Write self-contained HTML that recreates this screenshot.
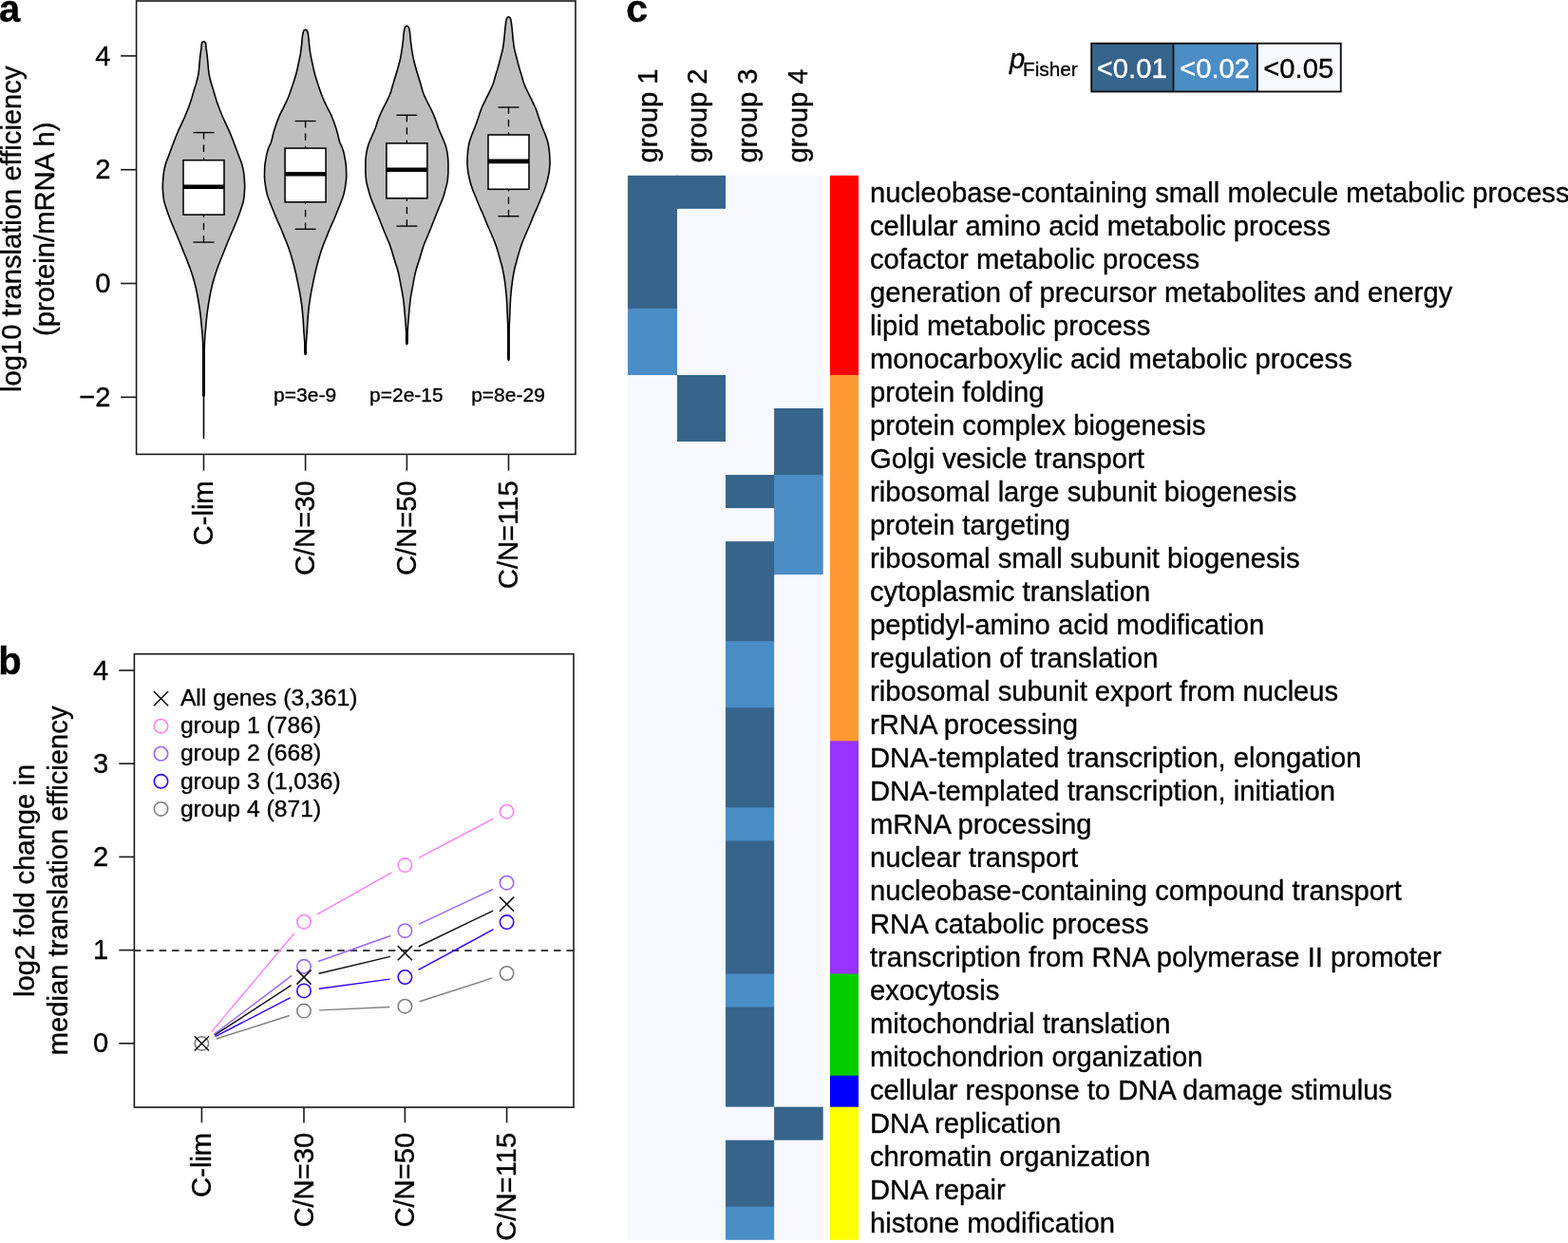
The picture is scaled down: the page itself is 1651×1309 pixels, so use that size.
<!DOCTYPE html>
<html><head><meta charset="utf-8"><title>Figure</title>
<style>
html,body{margin:0;padding:0;background:#fff;}
body{width:1651px;height:1309px;overflow:hidden;}
svg{display:block;}
text{font-family:"Liberation Sans", Arial, Helvetica, sans-serif;fill:#000;stroke:#000;stroke-width:0.35px;}
.t29{font-size:29.2px;}
.t25{font-size:24.7px;}
.t21{font-size:21px;}
.t21f{font-size:20.8px;}
.lbl{font-size:40px;font-weight:bold;}
</style></head><body>
<svg width="1651" height="1309" viewBox="0 0 1651 1309">
<rect width="1651" height="1309" fill="#fff"/>
<text x="-1" y="23.1" class="lbl">a</text>
<text x="-1.7" y="710.2" class="lbl">b</text>
<text x="659.2" y="23.2" class="lbl" style="font-size:41px">c</text>
<g id="pa">
<path d="M214.5,43.7 L215.61,44.2 L216.13,44.7 L216.38,45.2 L216.54,45.7 L216.63,46.2 L216.69,46.7 L216.74,47.2 L216.78,47.7 L216.82,48.2 L216.85,48.7 L216.9,49.2 L216.96,49.7 L217.01,50.2 L217.08,50.7 L217.14,51.2 L217.21,51.7 L217.27,52.2 L217.34,52.7 L217.42,53.2 L217.49,53.7 L217.56,54.2 L217.63,54.7 L217.7,55.2 L217.77,55.7 L217.84,56.2 L217.9,56.7 L217.97,57.2 L218.03,57.7 L218.09,58.2 L218.14,58.7 L218.2,59.2 L218.25,59.7 L218.3,60.2 L218.35,60.7 L218.4,61.2 L218.45,61.7 L218.5,62.2 L218.55,62.7 L218.59,63.2 L218.64,63.7 L218.69,64.2 L218.73,64.7 L218.78,65.2 L218.83,65.7 L218.88,66.2 L218.92,66.7 L218.97,67.2 L219.02,67.7 L219.07,68.2 L219.11,68.7 L219.16,69.2 L219.2,69.7 L219.24,70.2 L219.29,70.7 L219.33,71.2 L219.37,71.7 L219.42,72.2 L219.46,72.7 L219.51,73.2 L219.56,73.7 L219.61,74.2 L219.66,74.7 L219.71,75.2 L219.77,75.7 L219.83,76.2 L219.9,76.7 L219.97,77.2 L220.05,77.7 L220.13,78.2 L220.22,78.7 L220.32,79.2 L220.42,79.7 L220.52,80.2 L220.63,80.7 L220.74,81.2 L220.85,81.7 L220.97,82.2 L221.09,82.7 L221.22,83.2 L221.34,83.7 L221.47,84.2 L221.59,84.7 L221.72,85.2 L221.85,85.7 L221.98,86.2 L222.11,86.7 L222.25,87.2 L222.39,87.7 L222.54,88.2 L222.69,88.7 L222.85,89.2 L223.01,89.7 L223.17,90.2 L223.33,90.7 L223.49,91.2 L223.65,91.7 L223.82,92.2 L223.98,92.7 L224.14,93.2 L224.3,93.7 L224.46,94.2 L224.61,94.7 L224.76,95.2 L224.91,95.7 L225.06,96.2 L225.2,96.7 L225.34,97.2 L225.49,97.7 L225.63,98.2 L225.77,98.7 L225.92,99.2 L226.06,99.7 L226.2,100.2 L226.35,100.7 L226.49,101.2 L226.64,101.7 L226.78,102.2 L226.94,102.7 L227.09,103.2 L227.24,103.7 L227.4,104.2 L227.56,104.7 L227.72,105.2 L227.89,105.7 L228.05,106.2 L228.22,106.7 L228.39,107.2 L228.56,107.7 L228.73,108.2 L228.9,108.7 L229.08,109.2 L229.25,109.7 L229.43,110.2 L229.61,110.7 L229.79,111.2 L229.97,111.7 L230.16,112.2 L230.34,112.7 L230.53,113.2 L230.71,113.7 L230.9,114.2 L231.09,114.7 L231.28,115.2 L231.48,115.7 L231.67,116.2 L231.87,116.7 L232.07,117.2 L232.27,117.7 L232.47,118.2 L232.67,118.7 L232.88,119.2 L233.08,119.7 L233.29,120.2 L233.5,120.7 L233.71,121.2 L233.92,121.7 L234.13,122.2 L234.34,122.7 L234.56,123.2 L234.77,123.7 L234.99,124.2 L235.21,124.7 L235.44,125.2 L235.66,125.7 L235.89,126.2 L236.11,126.7 L236.34,127.2 L236.57,127.7 L236.8,128.2 L237.03,128.7 L237.26,129.2 L237.49,129.7 L237.72,130.2 L237.94,130.7 L238.17,131.2 L238.4,131.7 L238.63,132.2 L238.86,132.7 L239.09,133.2 L239.32,133.7 L239.55,134.2 L239.79,134.7 L240.02,135.2 L240.26,135.7 L240.49,136.2 L240.72,136.7 L240.95,137.2 L241.18,137.7 L241.41,138.2 L241.64,138.7 L241.86,139.2 L242.08,139.7 L242.3,140.2 L242.52,140.7 L242.73,141.2 L242.93,141.7 L243.14,142.2 L243.34,142.7 L243.54,143.2 L243.74,143.7 L243.94,144.2 L244.13,144.7 L244.33,145.2 L244.52,145.7 L244.71,146.2 L244.9,146.7 L245.09,147.2 L245.28,147.7 L245.48,148.2 L245.67,148.7 L245.86,149.2 L246.05,149.7 L246.24,150.2 L246.43,150.7 L246.62,151.2 L246.81,151.7 L247,152.2 L247.19,152.7 L247.38,153.2 L247.56,153.7 L247.75,154.2 L247.94,154.7 L248.12,155.2 L248.31,155.7 L248.5,156.2 L248.69,156.7 L248.88,157.2 L249.06,157.7 L249.25,158.2 L249.44,158.7 L249.63,159.2 L249.82,159.7 L250.01,160.2 L250.19,160.7 L250.38,161.2 L250.57,161.7 L250.76,162.2 L250.94,162.7 L251.13,163.2 L251.32,163.7 L251.5,164.2 L251.69,164.7 L251.88,165.2 L252.07,165.7 L252.27,166.2 L252.46,166.7 L252.66,167.2 L252.86,167.7 L253.06,168.2 L253.25,168.7 L253.44,169.2 L253.63,169.7 L253.81,170.2 L253.99,170.7 L254.16,171.2 L254.33,171.7 L254.49,172.2 L254.63,172.7 L254.77,173.2 L254.9,173.7 L255.03,174.2 L255.16,174.7 L255.29,175.2 L255.41,175.7 L255.53,176.2 L255.65,176.7 L255.76,177.2 L255.87,177.7 L255.98,178.2 L256.08,178.7 L256.18,179.2 L256.27,179.7 L256.36,180.2 L256.44,180.7 L256.52,181.2 L256.59,181.7 L256.66,182.2 L256.72,182.7 L256.78,183.2 L256.84,183.7 L256.9,184.2 L256.95,184.7 L257,185.2 L257.05,185.7 L257.1,186.2 L257.14,186.7 L257.19,187.2 L257.23,187.7 L257.27,188.2 L257.3,188.7 L257.34,189.2 L257.38,189.7 L257.41,190.2 L257.44,190.7 L257.47,191.2 L257.5,191.7 L257.53,192.2 L257.56,192.7 L257.59,193.2 L257.62,193.7 L257.64,194.2 L257.66,194.7 L257.68,195.2 L257.69,195.7 L257.7,196.2 L257.7,196.7 L257.69,197.2 L257.67,197.7 L257.65,198.2 L257.63,198.7 L257.6,199.2 L257.57,199.7 L257.54,200.2 L257.51,200.7 L257.48,201.2 L257.45,201.7 L257.42,202.2 L257.38,202.7 L257.35,203.2 L257.31,203.7 L257.26,204.2 L257.22,204.7 L257.17,205.2 L257.13,205.7 L257.07,206.2 L257.02,206.7 L256.97,207.2 L256.91,207.7 L256.84,208.2 L256.78,208.7 L256.71,209.2 L256.64,209.7 L256.57,210.2 L256.49,210.7 L256.39,211.2 L256.28,211.7 L256.16,212.2 L256.04,212.7 L255.9,213.2 L255.76,213.7 L255.61,214.2 L255.46,214.7 L255.3,215.2 L255.14,215.7 L254.98,216.2 L254.81,216.7 L254.65,217.2 L254.48,217.7 L254.32,218.2 L254.16,218.7 L254,219.2 L253.84,219.7 L253.68,220.2 L253.52,220.7 L253.36,221.2 L253.19,221.7 L253.02,222.2 L252.85,222.7 L252.68,223.2 L252.51,223.7 L252.33,224.2 L252.15,224.7 L251.97,225.2 L251.79,225.7 L251.61,226.2 L251.43,226.7 L251.25,227.2 L251.06,227.7 L250.87,228.2 L250.69,228.7 L250.5,229.2 L250.31,229.7 L250.11,230.2 L249.92,230.7 L249.72,231.2 L249.52,231.7 L249.32,232.2 L249.12,232.7 L248.92,233.2 L248.71,233.7 L248.51,234.2 L248.3,234.7 L248.1,235.2 L247.89,235.7 L247.68,236.2 L247.47,236.7 L247.27,237.2 L247.06,237.7 L246.85,238.2 L246.64,238.7 L246.43,239.2 L246.21,239.7 L246,240.2 L245.78,240.7 L245.57,241.2 L245.35,241.7 L245.13,242.2 L244.92,242.7 L244.7,243.2 L244.48,243.7 L244.27,244.2 L244.05,244.7 L243.84,245.2 L243.62,245.7 L243.41,246.2 L243.2,246.7 L242.99,247.2 L242.78,247.7 L242.57,248.2 L242.36,248.7 L242.15,249.2 L241.95,249.7 L241.74,250.2 L241.53,250.7 L241.33,251.2 L241.12,251.7 L240.91,252.2 L240.71,252.7 L240.5,253.2 L240.3,253.7 L240.09,254.2 L239.89,254.7 L239.69,255.2 L239.48,255.7 L239.28,256.2 L239.07,256.7 L238.87,257.2 L238.67,257.7 L238.47,258.2 L238.27,258.7 L238.07,259.2 L237.86,259.7 L237.66,260.2 L237.46,260.7 L237.26,261.2 L237.06,261.7 L236.86,262.2 L236.66,262.7 L236.46,263.2 L236.26,263.7 L236.06,264.2 L235.86,264.7 L235.66,265.2 L235.46,265.7 L235.26,266.2 L235.05,266.7 L234.85,267.2 L234.65,267.7 L234.44,268.2 L234.24,268.7 L234.04,269.2 L233.83,269.7 L233.63,270.2 L233.43,270.7 L233.23,271.2 L233.03,271.7 L232.83,272.2 L232.63,272.7 L232.43,273.2 L232.23,273.7 L232.04,274.2 L231.84,274.7 L231.65,275.2 L231.46,275.7 L231.26,276.2 L231.07,276.7 L230.87,277.2 L230.68,277.7 L230.49,278.2 L230.29,278.7 L230.1,279.2 L229.91,279.7 L229.72,280.2 L229.53,280.7 L229.35,281.2 L229.16,281.7 L228.98,282.2 L228.8,282.7 L228.62,283.2 L228.45,283.7 L228.27,284.2 L228.1,284.7 L227.93,285.2 L227.77,285.7 L227.6,286.2 L227.44,286.7 L227.27,287.2 L227.11,287.7 L226.95,288.2 L226.79,288.7 L226.63,289.2 L226.47,289.7 L226.31,290.2 L226.15,290.7 L226,291.2 L225.84,291.7 L225.69,292.2 L225.54,292.7 L225.39,293.2 L225.24,293.7 L225.09,294.2 L224.94,294.7 L224.8,295.2 L224.66,295.7 L224.52,296.2 L224.38,296.7 L224.24,297.2 L224.11,297.7 L223.98,298.2 L223.85,298.7 L223.72,299.2 L223.6,299.7 L223.47,300.2 L223.35,300.7 L223.23,301.2 L223.12,301.7 L223,302.2 L222.88,302.7 L222.77,303.2 L222.66,303.7 L222.55,304.2 L222.44,304.7 L222.33,305.2 L222.23,305.7 L222.12,306.2 L222.02,306.7 L221.91,307.2 L221.81,307.7 L221.71,308.2 L221.61,308.7 L221.51,309.2 L221.41,309.7 L221.32,310.2 L221.22,310.7 L221.13,311.2 L221.03,311.7 L220.94,312.2 L220.85,312.7 L220.76,313.2 L220.67,313.7 L220.58,314.2 L220.49,314.7 L220.4,315.2 L220.32,315.7 L220.23,316.2 L220.15,316.7 L220.06,317.2 L219.98,317.7 L219.89,318.2 L219.81,318.7 L219.72,319.2 L219.64,319.7 L219.56,320.2 L219.48,320.7 L219.4,321.2 L219.32,321.7 L219.24,322.2 L219.16,322.7 L219.09,323.2 L219.01,323.7 L218.93,324.2 L218.86,324.7 L218.79,325.2 L218.71,325.7 L218.64,326.2 L218.57,326.7 L218.5,327.2 L218.43,327.7 L218.37,328.2 L218.3,328.7 L218.24,329.2 L218.17,329.7 L218.11,330.2 L218.05,330.7 L217.99,331.2 L217.93,331.7 L217.87,332.2 L217.81,332.7 L217.76,333.2 L217.7,333.7 L217.65,334.2 L217.6,334.7 L217.55,335.2 L217.49,335.7 L217.44,336.2 L217.39,336.7 L217.34,337.2 L217.29,337.7 L217.25,338.2 L217.2,338.7 L217.15,339.2 L217.1,339.7 L217.06,340.2 L217.01,340.7 L216.96,341.2 L216.92,341.7 L216.87,342.2 L216.83,342.7 L216.78,343.2 L216.74,343.7 L216.69,344.2 L216.65,344.7 L216.6,345.2 L216.56,345.7 L216.51,346.2 L216.46,346.7 L216.42,347.2 L216.37,347.7 L216.32,348.2 L216.27,348.7 L216.22,349.2 L216.17,349.7 L216.13,350.2 L216.08,350.7 L216.03,351.2 L215.99,351.7 L215.94,352.2 L215.9,352.7 L215.86,353.2 L215.82,353.7 L215.78,354.2 L215.75,354.7 L215.72,355.2 L215.69,355.7 L215.66,356.2 L215.63,356.7 L215.6,357.2 L215.57,357.7 L215.54,358.2 L215.52,358.7 L215.49,359.2 L215.46,359.7 L215.44,360.2 L215.41,360.7 L215.39,361.2 L215.37,361.7 L215.35,362.2 L215.33,362.7 L215.31,363.2 L215.29,363.7 L215.28,364.2 L215.27,364.7 L215.26,365.2 L215.25,365.7 L215.25,366.2 L215.24,366.7 L215.24,367.2 L215.24,367.7 L215.23,368.2 L215.23,368.7 L215.23,369.2 L215.22,369.7 L215.22,370.2 L215.22,370.7 L215.22,371.2 L215.21,371.7 L215.21,372.2 L215.21,372.7 L215.21,373.2 L215.21,373.7 L215.21,374.2 L215.2,374.7 L215.2,375.2 L215.2,375.7 L215.2,376.2 L215.2,376.7 L215.2,377.2 L215.2,377.7 L215.2,378.2 L215.2,378.7 L215.2,379.2 L215.2,379.7 L215.2,380.2 L215.2,380.7 L215.2,381.2 L215.2,381.7 L215.2,382.2 L215.2,382.7 L215.2,383.2 L215.2,383.7 L215.2,384.2 L215.2,384.7 L215.2,385.2 L215.2,385.7 L215.2,386.2 L215.2,386.7 L215.2,387.2 L215.2,387.7 L215.2,388.2 L215.2,388.7 L215.2,389.2 L215.2,389.7 L215.2,390.2 L215.2,390.7 L215.2,391.2 L215.2,391.7 L215.2,392.2 L215.2,392.7 L215.2,393.2 L215.2,393.7 L215.2,394.2 L215.2,394.7 L215.2,395.2 L215.2,395.7 L215.2,396.2 L215.2,396.7 L215.2,397.2 L215.2,397.7 L215.2,398.2 L215.2,398.7 L215.2,399.2 L215.2,399.7 L215.2,400.2 L215.2,400.7 L215.2,401.2 L215.2,401.7 L215.2,402.2 L215.2,402.7 L215.2,403.2 L215.2,403.7 L215.2,404.2 L215.2,404.7 L215.2,405.2 L215.2,405.7 L215.2,406.2 L215.2,406.7 L215.2,407.2 L215.2,407.7 L215.2,408.2 L215.2,408.7 L215.2,409.2 L215.2,409.7 L215.2,410.2 L215.2,410.7 L215.2,411.2 L215.2,411.7 L215.2,412.2 L215.2,412.7 L215.2,413.2 L215.2,413.7 L215.2,414.2 L215.2,414.7 L215.2,415.2 L215.2,415.7 L215.2,416.2 L215.17,416.7 L214.88,417.2 L214.57,417.7 L214.5,418.2 L214.5,418.7 L214.5,419.2 L214.5,419.7 L214.5,420.2 L214.5,420.7 L214.5,421.2 L214.5,421.7 L214.5,422.2 L214.5,422.7 L214.5,423.2 L214.5,423.7 L214.5,424.2 L214.5,424.7 L214.5,425.2 L214.5,425.7 L214.5,426.2 L214.5,426.7 L214.5,427.2 L214.5,427.7 L214.5,428.2 L214.5,428.7 L214.5,429.2 L214.5,429.7 L214.5,430.2 L214.5,430.7 L214.5,431.2 L214.5,431.7 L214.5,432.2 L214.5,432.7 L214.5,433.2 L214.5,433.7 L214.5,434.2 L214.5,434.7 L214.5,435.2 L214.5,435.7 L214.5,436.2 L214.5,436.7 L214.5,437.2 L214.5,437.7 L214.5,438.2 L214.5,438.7 L214.5,439.2 L214.5,439.7 L214.5,440.2 L214.5,440.7 L214.5,441.2 L214.5,441.7 L214.5,442.2 L214.5,442.7 L214.5,443.2 L214.5,443.7 L214.5,444.2 L214.5,444.7 L214.5,445.2 L214.5,445.7 L214.5,446.2 L214.5,446.7 L214.5,447.2 L214.5,447.7 L214.5,448.2 L214.5,448.7 L214.5,449.2 L214.5,449.7 L214.5,450.2 L214.5,450.7 L214.5,451.2 L214.5,451.7 L214.5,452.2 L214.5,452.7 L214.5,453.2 L214.5,453.7 L214.5,454.2 L214.5,454.7 L214.5,455.2 L214.5,455.7 L214.5,456.2 L214.5,456.7 L214.5,457.2 L214.5,457.7 L214.5,458.2 L214.5,458.7 L214.5,459.2 L214.5,459.7 L214.5,460.2 L214.5,460.7 L214.5,461.2 L214.5,461.6 L214.5,461.6 L214.5,461.2 L214.5,460.7 L214.5,460.2 L214.5,459.7 L214.5,459.2 L214.5,458.7 L214.5,458.2 L214.5,457.7 L214.5,457.2 L214.5,456.7 L214.5,456.2 L214.5,455.7 L214.5,455.2 L214.5,454.7 L214.5,454.2 L214.5,453.7 L214.5,453.2 L214.5,452.7 L214.5,452.2 L214.5,451.7 L214.5,451.2 L214.5,450.7 L214.5,450.2 L214.5,449.7 L214.5,449.2 L214.5,448.7 L214.5,448.2 L214.5,447.7 L214.5,447.2 L214.5,446.7 L214.5,446.2 L214.5,445.7 L214.5,445.2 L214.5,444.7 L214.5,444.2 L214.5,443.7 L214.5,443.2 L214.5,442.7 L214.5,442.2 L214.5,441.7 L214.5,441.2 L214.5,440.7 L214.5,440.2 L214.5,439.7 L214.5,439.2 L214.5,438.7 L214.5,438.2 L214.5,437.7 L214.5,437.2 L214.5,436.7 L214.5,436.2 L214.5,435.7 L214.5,435.2 L214.5,434.7 L214.5,434.2 L214.5,433.7 L214.5,433.2 L214.5,432.7 L214.5,432.2 L214.5,431.7 L214.5,431.2 L214.5,430.7 L214.5,430.2 L214.5,429.7 L214.5,429.2 L214.5,428.7 L214.5,428.2 L214.5,427.7 L214.5,427.2 L214.5,426.7 L214.5,426.2 L214.5,425.7 L214.5,425.2 L214.5,424.7 L214.5,424.2 L214.5,423.7 L214.5,423.2 L214.5,422.7 L214.5,422.2 L214.5,421.7 L214.5,421.2 L214.5,420.7 L214.5,420.2 L214.5,419.7 L214.5,419.2 L214.5,418.7 L214.5,418.2 L214.43,417.7 L214.12,417.2 L213.83,416.7 L213.8,416.2 L213.8,415.7 L213.8,415.2 L213.8,414.7 L213.8,414.2 L213.8,413.7 L213.8,413.2 L213.8,412.7 L213.8,412.2 L213.8,411.7 L213.8,411.2 L213.8,410.7 L213.8,410.2 L213.8,409.7 L213.8,409.2 L213.8,408.7 L213.8,408.2 L213.8,407.7 L213.8,407.2 L213.8,406.7 L213.8,406.2 L213.8,405.7 L213.8,405.2 L213.8,404.7 L213.8,404.2 L213.8,403.7 L213.8,403.2 L213.8,402.7 L213.8,402.2 L213.8,401.7 L213.8,401.2 L213.8,400.7 L213.8,400.2 L213.8,399.7 L213.8,399.2 L213.8,398.7 L213.8,398.2 L213.8,397.7 L213.8,397.2 L213.8,396.7 L213.8,396.2 L213.8,395.7 L213.8,395.2 L213.8,394.7 L213.8,394.2 L213.8,393.7 L213.8,393.2 L213.8,392.7 L213.8,392.2 L213.8,391.7 L213.8,391.2 L213.8,390.7 L213.8,390.2 L213.8,389.7 L213.8,389.2 L213.8,388.7 L213.8,388.2 L213.8,387.7 L213.8,387.2 L213.8,386.7 L213.8,386.2 L213.8,385.7 L213.8,385.2 L213.8,384.7 L213.8,384.2 L213.8,383.7 L213.8,383.2 L213.8,382.7 L213.8,382.2 L213.8,381.7 L213.8,381.2 L213.8,380.7 L213.8,380.2 L213.8,379.7 L213.8,379.2 L213.8,378.7 L213.8,378.2 L213.8,377.7 L213.8,377.2 L213.8,376.7 L213.8,376.2 L213.8,375.7 L213.8,375.2 L213.8,374.7 L213.79,374.2 L213.79,373.7 L213.79,373.2 L213.79,372.7 L213.79,372.2 L213.79,371.7 L213.78,371.2 L213.78,370.7 L213.78,370.2 L213.78,369.7 L213.77,369.2 L213.77,368.7 L213.77,368.2 L213.76,367.7 L213.76,367.2 L213.76,366.7 L213.75,366.2 L213.75,365.7 L213.74,365.2 L213.73,364.7 L213.72,364.2 L213.71,363.7 L213.69,363.2 L213.67,362.7 L213.65,362.2 L213.63,361.7 L213.61,361.2 L213.59,360.7 L213.56,360.2 L213.54,359.7 L213.51,359.2 L213.48,358.7 L213.46,358.2 L213.43,357.7 L213.4,357.2 L213.37,356.7 L213.34,356.2 L213.31,355.7 L213.28,355.2 L213.25,354.7 L213.22,354.2 L213.18,353.7 L213.14,353.2 L213.1,352.7 L213.06,352.2 L213.01,351.7 L212.97,351.2 L212.92,350.7 L212.87,350.2 L212.83,349.7 L212.78,349.2 L212.73,348.7 L212.68,348.2 L212.63,347.7 L212.58,347.2 L212.54,346.7 L212.49,346.2 L212.44,345.7 L212.4,345.2 L212.35,344.7 L212.31,344.2 L212.26,343.7 L212.22,343.2 L212.17,342.7 L212.13,342.2 L212.08,341.7 L212.04,341.2 L211.99,340.7 L211.94,340.2 L211.9,339.7 L211.85,339.2 L211.8,338.7 L211.75,338.2 L211.71,337.7 L211.66,337.2 L211.61,336.7 L211.56,336.2 L211.51,335.7 L211.45,335.2 L211.4,334.7 L211.35,334.2 L211.3,333.7 L211.24,333.2 L211.19,332.7 L211.13,332.2 L211.07,331.7 L211.01,331.2 L210.95,330.7 L210.89,330.2 L210.83,329.7 L210.76,329.2 L210.7,328.7 L210.63,328.2 L210.57,327.7 L210.5,327.2 L210.43,326.7 L210.36,326.2 L210.29,325.7 L210.21,325.2 L210.14,324.7 L210.07,324.2 L209.99,323.7 L209.91,323.2 L209.84,322.7 L209.76,322.2 L209.68,321.7 L209.6,321.2 L209.52,320.7 L209.44,320.2 L209.36,319.7 L209.28,319.2 L209.19,318.7 L209.11,318.2 L209.02,317.7 L208.94,317.2 L208.85,316.7 L208.77,316.2 L208.68,315.7 L208.6,315.2 L208.51,314.7 L208.42,314.2 L208.33,313.7 L208.24,313.2 L208.15,312.7 L208.06,312.2 L207.97,311.7 L207.87,311.2 L207.78,310.7 L207.68,310.2 L207.59,309.7 L207.49,309.2 L207.39,308.7 L207.29,308.2 L207.19,307.7 L207.09,307.2 L206.98,306.7 L206.88,306.2 L206.77,305.7 L206.67,305.2 L206.56,304.7 L206.45,304.2 L206.34,303.7 L206.23,303.2 L206.12,302.7 L206,302.2 L205.88,301.7 L205.77,301.2 L205.65,300.7 L205.53,300.2 L205.4,299.7 L205.28,299.2 L205.15,298.7 L205.02,298.2 L204.89,297.7 L204.76,297.2 L204.62,296.7 L204.48,296.2 L204.34,295.7 L204.2,295.2 L204.06,294.7 L203.91,294.2 L203.76,293.7 L203.61,293.2 L203.46,292.7 L203.31,292.2 L203.16,291.7 L203,291.2 L202.85,290.7 L202.69,290.2 L202.53,289.7 L202.37,289.2 L202.21,288.7 L202.05,288.2 L201.89,287.7 L201.73,287.2 L201.56,286.7 L201.4,286.2 L201.23,285.7 L201.07,285.2 L200.9,284.7 L200.73,284.2 L200.55,283.7 L200.38,283.2 L200.2,282.7 L200.02,282.2 L199.84,281.7 L199.65,281.2 L199.47,280.7 L199.28,280.2 L199.09,279.7 L198.9,279.2 L198.71,278.7 L198.51,278.2 L198.32,277.7 L198.13,277.2 L197.93,276.7 L197.74,276.2 L197.54,275.7 L197.35,275.2 L197.16,274.7 L196.96,274.2 L196.77,273.7 L196.57,273.2 L196.37,272.7 L196.17,272.2 L195.97,271.7 L195.77,271.2 L195.57,270.7 L195.37,270.2 L195.17,269.7 L194.96,269.2 L194.76,268.7 L194.56,268.2 L194.35,267.7 L194.15,267.2 L193.95,266.7 L193.74,266.2 L193.54,265.7 L193.34,265.2 L193.14,264.7 L192.94,264.2 L192.74,263.7 L192.54,263.2 L192.34,262.7 L192.14,262.2 L191.94,261.7 L191.74,261.2 L191.54,260.7 L191.34,260.2 L191.14,259.7 L190.93,259.2 L190.73,258.7 L190.53,258.2 L190.33,257.7 L190.13,257.2 L189.93,256.7 L189.72,256.2 L189.52,255.7 L189.31,255.2 L189.11,254.7 L188.91,254.2 L188.7,253.7 L188.5,253.2 L188.29,252.7 L188.09,252.2 L187.88,251.7 L187.67,251.2 L187.47,250.7 L187.26,250.2 L187.05,249.7 L186.85,249.2 L186.64,248.7 L186.43,248.2 L186.22,247.7 L186.01,247.2 L185.8,246.7 L185.59,246.2 L185.38,245.7 L185.16,245.2 L184.95,244.7 L184.73,244.2 L184.52,243.7 L184.3,243.2 L184.08,242.7 L183.87,242.2 L183.65,241.7 L183.43,241.2 L183.22,240.7 L183,240.2 L182.79,239.7 L182.57,239.2 L182.36,238.7 L182.15,238.2 L181.94,237.7 L181.73,237.2 L181.53,236.7 L181.32,236.2 L181.11,235.7 L180.9,235.2 L180.7,234.7 L180.49,234.2 L180.29,233.7 L180.08,233.2 L179.88,232.7 L179.68,232.2 L179.48,231.7 L179.28,231.2 L179.08,230.7 L178.89,230.2 L178.69,229.7 L178.5,229.2 L178.31,228.7 L178.13,228.2 L177.94,227.7 L177.75,227.2 L177.57,226.7 L177.39,226.2 L177.21,225.7 L177.03,225.2 L176.85,224.7 L176.67,224.2 L176.49,223.7 L176.32,223.2 L176.15,222.7 L175.98,222.2 L175.81,221.7 L175.64,221.2 L175.48,220.7 L175.32,220.2 L175.16,219.7 L175,219.2 L174.84,218.7 L174.68,218.2 L174.52,217.7 L174.35,217.2 L174.19,216.7 L174.02,216.2 L173.86,215.7 L173.7,215.2 L173.54,214.7 L173.39,214.2 L173.24,213.7 L173.1,213.2 L172.96,212.7 L172.84,212.2 L172.72,211.7 L172.61,211.2 L172.51,210.7 L172.43,210.2 L172.36,209.7 L172.29,209.2 L172.22,208.7 L172.16,208.2 L172.09,207.7 L172.03,207.2 L171.98,206.7 L171.93,206.2 L171.87,205.7 L171.83,205.2 L171.78,204.7 L171.74,204.2 L171.69,203.7 L171.65,203.2 L171.62,202.7 L171.58,202.2 L171.55,201.7 L171.52,201.2 L171.49,200.7 L171.46,200.2 L171.43,199.7 L171.4,199.2 L171.37,198.7 L171.35,198.2 L171.33,197.7 L171.31,197.2 L171.3,196.7 L171.3,196.2 L171.31,195.7 L171.32,195.2 L171.34,194.7 L171.36,194.2 L171.38,193.7 L171.41,193.2 L171.44,192.7 L171.47,192.2 L171.5,191.7 L171.53,191.2 L171.56,190.7 L171.59,190.2 L171.62,189.7 L171.66,189.2 L171.7,188.7 L171.73,188.2 L171.77,187.7 L171.81,187.2 L171.86,186.7 L171.9,186.2 L171.95,185.7 L172,185.2 L172.05,184.7 L172.1,184.2 L172.16,183.7 L172.22,183.2 L172.28,182.7 L172.34,182.2 L172.41,181.7 L172.48,181.2 L172.56,180.7 L172.64,180.2 L172.73,179.7 L172.82,179.2 L172.92,178.7 L173.02,178.2 L173.13,177.7 L173.24,177.2 L173.35,176.7 L173.47,176.2 L173.59,175.7 L173.71,175.2 L173.84,174.7 L173.97,174.2 L174.1,173.7 L174.23,173.2 L174.37,172.7 L174.51,172.2 L174.67,171.7 L174.84,171.2 L175.01,170.7 L175.19,170.2 L175.37,169.7 L175.56,169.2 L175.75,168.7 L175.94,168.2 L176.14,167.7 L176.34,167.2 L176.54,166.7 L176.73,166.2 L176.93,165.7 L177.12,165.2 L177.31,164.7 L177.5,164.2 L177.68,163.7 L177.87,163.2 L178.06,162.7 L178.24,162.2 L178.43,161.7 L178.62,161.2 L178.81,160.7 L178.99,160.2 L179.18,159.7 L179.37,159.2 L179.56,158.7 L179.75,158.2 L179.94,157.7 L180.12,157.2 L180.31,156.7 L180.5,156.2 L180.69,155.7 L180.88,155.2 L181.06,154.7 L181.25,154.2 L181.44,153.7 L181.62,153.2 L181.81,152.7 L182,152.2 L182.19,151.7 L182.38,151.2 L182.57,150.7 L182.76,150.2 L182.95,149.7 L183.14,149.2 L183.33,148.7 L183.52,148.2 L183.72,147.7 L183.91,147.2 L184.1,146.7 L184.29,146.2 L184.48,145.7 L184.67,145.2 L184.87,144.7 L185.06,144.2 L185.26,143.7 L185.46,143.2 L185.66,142.7 L185.86,142.2 L186.07,141.7 L186.27,141.2 L186.48,140.7 L186.7,140.2 L186.92,139.7 L187.14,139.2 L187.36,138.7 L187.59,138.2 L187.82,137.7 L188.05,137.2 L188.28,136.7 L188.51,136.2 L188.74,135.7 L188.98,135.2 L189.21,134.7 L189.45,134.2 L189.68,133.7 L189.91,133.2 L190.14,132.7 L190.37,132.2 L190.6,131.7 L190.83,131.2 L191.06,130.7 L191.28,130.2 L191.51,129.7 L191.74,129.2 L191.97,128.7 L192.2,128.2 L192.43,127.7 L192.66,127.2 L192.89,126.7 L193.11,126.2 L193.34,125.7 L193.56,125.2 L193.79,124.7 L194.01,124.2 L194.23,123.7 L194.44,123.2 L194.66,122.7 L194.87,122.2 L195.08,121.7 L195.29,121.2 L195.5,120.7 L195.71,120.2 L195.92,119.7 L196.12,119.2 L196.33,118.7 L196.53,118.2 L196.73,117.7 L196.93,117.2 L197.13,116.7 L197.33,116.2 L197.52,115.7 L197.72,115.2 L197.91,114.7 L198.1,114.2 L198.29,113.7 L198.47,113.2 L198.66,112.7 L198.84,112.2 L199.03,111.7 L199.21,111.2 L199.39,110.7 L199.57,110.2 L199.75,109.7 L199.92,109.2 L200.1,108.7 L200.27,108.2 L200.44,107.7 L200.61,107.2 L200.78,106.7 L200.95,106.2 L201.11,105.7 L201.28,105.2 L201.44,104.7 L201.6,104.2 L201.76,103.7 L201.91,103.2 L202.06,102.7 L202.22,102.2 L202.36,101.7 L202.51,101.2 L202.65,100.7 L202.8,100.2 L202.94,99.7 L203.08,99.2 L203.23,98.7 L203.37,98.2 L203.51,97.7 L203.66,97.2 L203.8,96.7 L203.94,96.2 L204.09,95.7 L204.24,95.2 L204.39,94.7 L204.54,94.2 L204.7,93.7 L204.86,93.2 L205.02,92.7 L205.18,92.2 L205.35,91.7 L205.51,91.2 L205.67,90.7 L205.83,90.2 L205.99,89.7 L206.15,89.2 L206.31,88.7 L206.46,88.2 L206.61,87.7 L206.75,87.2 L206.89,86.7 L207.02,86.2 L207.15,85.7 L207.28,85.2 L207.41,84.7 L207.53,84.2 L207.66,83.7 L207.78,83.2 L207.91,82.7 L208.03,82.2 L208.15,81.7 L208.26,81.2 L208.37,80.7 L208.48,80.2 L208.58,79.7 L208.68,79.2 L208.78,78.7 L208.87,78.2 L208.95,77.7 L209.03,77.2 L209.1,76.7 L209.17,76.2 L209.23,75.7 L209.29,75.2 L209.34,74.7 L209.39,74.2 L209.44,73.7 L209.49,73.2 L209.54,72.7 L209.58,72.2 L209.63,71.7 L209.67,71.2 L209.71,70.7 L209.76,70.2 L209.8,69.7 L209.84,69.2 L209.89,68.7 L209.93,68.2 L209.98,67.7 L210.03,67.2 L210.08,66.7 L210.12,66.2 L210.17,65.7 L210.22,65.2 L210.27,64.7 L210.31,64.2 L210.36,63.7 L210.41,63.2 L210.45,62.7 L210.5,62.2 L210.55,61.7 L210.6,61.2 L210.65,60.7 L210.7,60.2 L210.75,59.7 L210.8,59.2 L210.86,58.7 L210.91,58.2 L210.97,57.7 L211.03,57.2 L211.1,56.7 L211.16,56.2 L211.23,55.7 L211.3,55.2 L211.37,54.7 L211.44,54.2 L211.51,53.7 L211.58,53.2 L211.66,52.7 L211.73,52.2 L211.79,51.7 L211.86,51.2 L211.92,50.7 L211.99,50.2 L212.04,49.7 L212.1,49.2 L212.15,48.7 L212.18,48.2 L212.22,47.7 L212.26,47.2 L212.31,46.7 L212.37,46.2 L212.46,45.7 L212.62,45.2 L212.87,44.7 L213.39,44.2 L214.5,43.7Z" fill="#bebebe" stroke="#000" stroke-width="1.6" stroke-linejoin="round"/>
<path d="M321.6,31.2 L322.7,31.7 L323.25,32.2 L323.52,32.7 L323.71,33.2 L323.86,33.7 L323.99,34.2 L324.11,34.7 L324.22,35.2 L324.32,35.7 L324.41,36.2 L324.5,36.7 L324.58,37.2 L324.65,37.7 L324.72,38.2 L324.79,38.7 L324.85,39.2 L324.91,39.7 L324.97,40.2 L325.02,40.7 L325.08,41.2 L325.12,41.7 L325.17,42.2 L325.22,42.7 L325.26,43.2 L325.3,43.7 L325.35,44.2 L325.39,44.7 L325.43,45.2 L325.48,45.7 L325.53,46.2 L325.57,46.7 L325.62,47.2 L325.68,47.7 L325.73,48.2 L325.79,48.7 L325.85,49.2 L325.91,49.7 L325.96,50.2 L326.02,50.7 L326.08,51.2 L326.15,51.7 L326.21,52.2 L326.27,52.7 L326.34,53.2 L326.4,53.7 L326.47,54.2 L326.54,54.7 L326.61,55.2 L326.68,55.7 L326.76,56.2 L326.84,56.7 L326.92,57.2 L327,57.7 L327.09,58.2 L327.18,58.7 L327.27,59.2 L327.37,59.7 L327.47,60.2 L327.58,60.7 L327.68,61.2 L327.79,61.7 L327.9,62.2 L328.01,62.7 L328.12,63.2 L328.23,63.7 L328.34,64.2 L328.45,64.7 L328.56,65.2 L328.67,65.7 L328.78,66.2 L328.88,66.7 L328.99,67.2 L329.09,67.7 L329.2,68.2 L329.3,68.7 L329.4,69.2 L329.5,69.7 L329.61,70.2 L329.71,70.7 L329.82,71.2 L329.92,71.7 L330.03,72.2 L330.14,72.7 L330.25,73.2 L330.37,73.7 L330.48,74.2 L330.6,74.7 L330.73,75.2 L330.85,75.7 L330.98,76.2 L331.11,76.7 L331.25,77.2 L331.39,77.7 L331.53,78.2 L331.68,78.7 L331.83,79.2 L331.98,79.7 L332.13,80.2 L332.28,80.7 L332.44,81.2 L332.59,81.7 L332.75,82.2 L332.91,82.7 L333.06,83.2 L333.22,83.7 L333.38,84.2 L333.53,84.7 L333.69,85.2 L333.84,85.7 L334,86.2 L334.16,86.7 L334.32,87.2 L334.48,87.7 L334.64,88.2 L334.8,88.7 L334.96,89.2 L335.12,89.7 L335.29,90.2 L335.45,90.7 L335.62,91.2 L335.78,91.7 L335.95,92.2 L336.12,92.7 L336.29,93.2 L336.47,93.7 L336.64,94.2 L336.81,94.7 L336.99,95.2 L337.16,95.7 L337.34,96.2 L337.52,96.7 L337.69,97.2 L337.87,97.7 L338.06,98.2 L338.24,98.7 L338.42,99.2 L338.61,99.7 L338.8,100.2 L338.99,100.7 L339.18,101.2 L339.38,101.7 L339.58,102.2 L339.78,102.7 L339.98,103.2 L340.19,103.7 L340.4,104.2 L340.62,104.7 L340.83,105.2 L341.05,105.7 L341.28,106.2 L341.5,106.7 L341.73,107.2 L341.96,107.7 L342.2,108.2 L342.43,108.7 L342.67,109.2 L342.9,109.7 L343.14,110.2 L343.38,110.7 L343.62,111.2 L343.86,111.7 L344.1,112.2 L344.34,112.7 L344.59,113.2 L344.84,113.7 L345.1,114.2 L345.36,114.7 L345.62,115.2 L345.89,115.7 L346.15,116.2 L346.42,116.7 L346.68,117.2 L346.94,117.7 L347.2,118.2 L347.46,118.7 L347.71,119.2 L347.96,119.7 L348.2,120.2 L348.43,120.7 L348.66,121.2 L348.88,121.7 L349.09,122.2 L349.31,122.7 L349.52,123.2 L349.72,123.7 L349.93,124.2 L350.13,124.7 L350.33,125.2 L350.53,125.7 L350.72,126.2 L350.91,126.7 L351.1,127.2 L351.29,127.7 L351.48,128.2 L351.66,128.7 L351.84,129.2 L352.02,129.7 L352.19,130.2 L352.37,130.7 L352.54,131.2 L352.71,131.7 L352.88,132.2 L353.05,132.7 L353.22,133.2 L353.38,133.7 L353.54,134.2 L353.7,134.7 L353.86,135.2 L354.02,135.7 L354.17,136.2 L354.32,136.7 L354.47,137.2 L354.62,137.7 L354.77,138.2 L354.92,138.7 L355.06,139.2 L355.2,139.7 L355.34,140.2 L355.47,140.7 L355.6,141.2 L355.72,141.7 L355.84,142.2 L355.96,142.7 L356.07,143.2 L356.19,143.7 L356.3,144.2 L356.42,144.7 L356.54,145.2 L356.66,145.7 L356.78,146.2 L356.9,146.7 L357.03,147.2 L357.16,147.7 L357.3,148.2 L357.45,148.7 L357.6,149.2 L357.76,149.7 L357.94,150.2 L358.14,150.7 L358.34,151.2 L358.55,151.7 L358.77,152.2 L359,152.7 L359.23,153.2 L359.46,153.7 L359.69,154.2 L359.92,154.7 L360.14,155.2 L360.36,155.7 L360.56,156.2 L360.76,156.7 L360.95,157.2 L361.12,157.7 L361.27,158.2 L361.41,158.7 L361.55,159.2 L361.68,159.7 L361.81,160.2 L361.93,160.7 L362.05,161.2 L362.17,161.7 L362.29,162.2 L362.4,162.7 L362.5,163.2 L362.61,163.7 L362.71,164.2 L362.8,164.7 L362.9,165.2 L362.99,165.7 L363.08,166.2 L363.17,166.7 L363.25,167.2 L363.33,167.7 L363.42,168.2 L363.5,168.7 L363.58,169.2 L363.67,169.7 L363.75,170.2 L363.83,170.7 L363.91,171.2 L363.99,171.7 L364.06,172.2 L364.13,172.7 L364.2,173.2 L364.26,173.7 L364.31,174.2 L364.36,174.7 L364.41,175.2 L364.45,175.7 L364.48,176.2 L364.5,176.7 L364.52,177.2 L364.54,177.7 L364.55,178.2 L364.57,178.7 L364.59,179.2 L364.6,179.7 L364.61,180.2 L364.63,180.7 L364.64,181.2 L364.65,181.7 L364.66,182.2 L364.67,182.7 L364.68,183.2 L364.69,183.7 L364.69,184.2 L364.7,184.7 L364.7,185.2 L364.7,185.7 L364.7,186.2 L364.69,186.7 L364.67,187.2 L364.65,187.7 L364.61,188.2 L364.58,188.7 L364.53,189.2 L364.48,189.7 L364.43,190.2 L364.37,190.7 L364.31,191.2 L364.25,191.7 L364.18,192.2 L364.11,192.7 L364.04,193.2 L363.98,193.7 L363.91,194.2 L363.84,194.7 L363.77,195.2 L363.7,195.7 L363.63,196.2 L363.55,196.7 L363.47,197.2 L363.39,197.7 L363.3,198.2 L363.21,198.7 L363.12,199.2 L363.02,199.7 L362.92,200.2 L362.81,200.7 L362.7,201.2 L362.59,201.7 L362.48,202.2 L362.36,202.7 L362.25,203.2 L362.12,203.7 L362,204.2 L361.87,204.7 L361.73,205.2 L361.59,205.7 L361.43,206.2 L361.27,206.7 L361.11,207.2 L360.93,207.7 L360.76,208.2 L360.58,208.7 L360.39,209.2 L360.21,209.7 L360.02,210.2 L359.83,210.7 L359.64,211.2 L359.44,211.7 L359.25,212.2 L359.06,212.7 L358.87,213.2 L358.69,213.7 L358.5,214.2 L358.31,214.7 L358.11,215.2 L357.91,215.7 L357.71,216.2 L357.51,216.7 L357.31,217.2 L357.11,217.7 L356.9,218.2 L356.7,218.7 L356.49,219.2 L356.29,219.7 L356.08,220.2 L355.88,220.7 L355.67,221.2 L355.47,221.7 L355.26,222.2 L355.06,222.7 L354.86,223.2 L354.66,223.7 L354.46,224.2 L354.26,224.7 L354.06,225.2 L353.86,225.7 L353.66,226.2 L353.45,226.7 L353.25,227.2 L353.05,227.7 L352.85,228.2 L352.65,228.7 L352.44,229.2 L352.24,229.7 L352.03,230.2 L351.82,230.7 L351.61,231.2 L351.4,231.7 L351.19,232.2 L350.97,232.7 L350.75,233.2 L350.53,233.7 L350.3,234.2 L350.08,234.7 L349.85,235.2 L349.62,235.7 L349.39,236.2 L349.16,236.7 L348.94,237.2 L348.71,237.7 L348.48,238.2 L348.26,238.7 L348.04,239.2 L347.82,239.7 L347.6,240.2 L347.38,240.7 L347.17,241.2 L346.96,241.7 L346.76,242.2 L346.55,242.7 L346.35,243.2 L346.15,243.7 L345.94,244.2 L345.74,244.7 L345.55,245.2 L345.35,245.7 L345.15,246.2 L344.95,246.7 L344.75,247.2 L344.56,247.7 L344.36,248.2 L344.16,248.7 L343.96,249.2 L343.76,249.7 L343.56,250.2 L343.36,250.7 L343.15,251.2 L342.95,251.7 L342.74,252.2 L342.53,252.7 L342.32,253.2 L342.12,253.7 L341.91,254.2 L341.7,254.7 L341.5,255.2 L341.29,255.7 L341.09,256.2 L340.89,256.7 L340.69,257.2 L340.5,257.7 L340.31,258.2 L340.12,258.7 L339.94,259.2 L339.76,259.7 L339.58,260.2 L339.4,260.7 L339.23,261.2 L339.05,261.7 L338.88,262.2 L338.71,262.7 L338.54,263.2 L338.38,263.7 L338.21,264.2 L338.05,264.7 L337.88,265.2 L337.72,265.7 L337.56,266.2 L337.4,266.7 L337.24,267.2 L337.09,267.7 L336.93,268.2 L336.78,268.7 L336.63,269.2 L336.48,269.7 L336.33,270.2 L336.18,270.7 L336.03,271.2 L335.89,271.7 L335.74,272.2 L335.6,272.7 L335.46,273.2 L335.32,273.7 L335.17,274.2 L335.04,274.7 L334.9,275.2 L334.76,275.7 L334.63,276.2 L334.49,276.7 L334.36,277.2 L334.22,277.7 L334.09,278.2 L333.96,278.7 L333.83,279.2 L333.7,279.7 L333.58,280.2 L333.45,280.7 L333.32,281.2 L333.2,281.7 L333.08,282.2 L332.95,282.7 L332.83,283.2 L332.71,283.7 L332.59,284.2 L332.47,284.7 L332.35,285.2 L332.24,285.7 L332.12,286.2 L332,286.7 L331.89,287.2 L331.78,287.7 L331.67,288.2 L331.55,288.7 L331.44,289.2 L331.33,289.7 L331.23,290.2 L331.12,290.7 L331.01,291.2 L330.9,291.7 L330.8,292.2 L330.69,292.7 L330.59,293.2 L330.48,293.7 L330.38,294.2 L330.28,294.7 L330.17,295.2 L330.07,295.7 L329.97,296.2 L329.86,296.7 L329.76,297.2 L329.66,297.7 L329.56,298.2 L329.46,298.7 L329.36,299.2 L329.25,299.7 L329.15,300.2 L329.05,300.7 L328.95,301.2 L328.85,301.7 L328.75,302.2 L328.65,302.7 L328.55,303.2 L328.45,303.7 L328.35,304.2 L328.25,304.7 L328.15,305.2 L328.06,305.7 L327.96,306.2 L327.87,306.7 L327.77,307.2 L327.68,307.7 L327.59,308.2 L327.5,308.7 L327.41,309.2 L327.32,309.7 L327.23,310.2 L327.15,310.7 L327.07,311.2 L326.98,311.7 L326.9,312.2 L326.82,312.7 L326.74,313.2 L326.66,313.7 L326.58,314.2 L326.5,314.7 L326.42,315.2 L326.34,315.7 L326.26,316.2 L326.18,316.7 L326.11,317.2 L326.03,317.7 L325.96,318.2 L325.89,318.7 L325.82,319.2 L325.75,319.7 L325.68,320.2 L325.61,320.7 L325.54,321.2 L325.48,321.7 L325.41,322.2 L325.35,322.7 L325.29,323.2 L325.23,323.7 L325.18,324.2 L325.12,324.7 L325.07,325.2 L325.01,325.7 L324.96,326.2 L324.91,326.7 L324.86,327.2 L324.81,327.7 L324.76,328.2 L324.71,328.7 L324.66,329.2 L324.61,329.7 L324.56,330.2 L324.52,330.7 L324.47,331.2 L324.43,331.7 L324.38,332.2 L324.34,332.7 L324.3,333.2 L324.26,333.7 L324.22,334.2 L324.18,334.7 L324.14,335.2 L324.1,335.7 L324.06,336.2 L324.02,336.7 L323.99,337.2 L323.95,337.7 L323.91,338.2 L323.88,338.7 L323.85,339.2 L323.82,339.7 L323.78,340.2 L323.75,340.7 L323.72,341.2 L323.69,341.7 L323.67,342.2 L323.64,342.7 L323.61,343.2 L323.58,343.7 L323.55,344.2 L323.52,344.7 L323.49,345.2 L323.47,345.7 L323.44,346.2 L323.41,346.7 L323.38,347.2 L323.35,347.7 L323.32,348.2 L323.29,348.7 L323.25,349.2 L323.22,349.7 L323.19,350.2 L323.15,350.7 L323.11,351.2 L323.08,351.7 L323.04,352.2 L323,352.7 L322.96,353.2 L322.92,353.7 L322.88,354.2 L322.84,354.7 L322.81,355.2 L322.77,355.7 L322.73,356.2 L322.69,356.7 L322.66,357.2 L322.62,357.7 L322.59,358.2 L322.55,358.7 L322.51,359.2 L322.47,359.7 L322.43,360.2 L322.4,360.7 L322.37,361.2 L322.36,361.7 L322.35,362.2 L322.34,362.7 L322.34,363.2 L322.34,363.7 L322.33,364.2 L322.33,364.7 L322.33,365.2 L322.33,365.7 L322.33,366.2 L322.33,366.7 L322.33,367.2 L322.33,367.7 L322.33,368.2 L322.32,368.7 L322.32,369.2 L322.32,369.7 L322.32,370.2 L322.31,370.7 L322.31,371.2 L322.3,371.7 L322.27,372.2 L322.05,372.7 L321.72,373.2 L321.6,373.4 L321.6,373.4 L321.48,373.2 L321.15,372.7 L320.93,372.2 L320.9,371.7 L320.89,371.2 L320.89,370.7 L320.88,370.2 L320.88,369.7 L320.88,369.2 L320.88,368.7 L320.87,368.2 L320.87,367.7 L320.87,367.2 L320.87,366.7 L320.87,366.2 L320.87,365.7 L320.87,365.2 L320.87,364.7 L320.87,364.2 L320.86,363.7 L320.86,363.2 L320.86,362.7 L320.85,362.2 L320.84,361.7 L320.83,361.2 L320.8,360.7 L320.77,360.2 L320.73,359.7 L320.69,359.2 L320.65,358.7 L320.61,358.2 L320.58,357.7 L320.54,357.2 L320.51,356.7 L320.47,356.2 L320.43,355.7 L320.39,355.2 L320.36,354.7 L320.32,354.2 L320.28,353.7 L320.24,353.2 L320.2,352.7 L320.16,352.2 L320.12,351.7 L320.09,351.2 L320.05,350.7 L320.01,350.2 L319.98,349.7 L319.95,349.2 L319.91,348.7 L319.88,348.2 L319.85,347.7 L319.82,347.2 L319.79,346.7 L319.76,346.2 L319.73,345.7 L319.71,345.2 L319.68,344.7 L319.65,344.2 L319.62,343.7 L319.59,343.2 L319.56,342.7 L319.53,342.2 L319.51,341.7 L319.48,341.2 L319.45,340.7 L319.42,340.2 L319.38,339.7 L319.35,339.2 L319.32,338.7 L319.29,338.2 L319.25,337.7 L319.21,337.2 L319.18,336.7 L319.14,336.2 L319.1,335.7 L319.06,335.2 L319.02,334.7 L318.98,334.2 L318.94,333.7 L318.9,333.2 L318.86,332.7 L318.82,332.2 L318.77,331.7 L318.73,331.2 L318.68,330.7 L318.64,330.2 L318.59,329.7 L318.54,329.2 L318.49,328.7 L318.44,328.2 L318.39,327.7 L318.34,327.2 L318.29,326.7 L318.24,326.2 L318.19,325.7 L318.13,325.2 L318.08,324.7 L318.02,324.2 L317.97,323.7 L317.91,323.2 L317.85,322.7 L317.79,322.2 L317.72,321.7 L317.66,321.2 L317.59,320.7 L317.52,320.2 L317.45,319.7 L317.38,319.2 L317.31,318.7 L317.24,318.2 L317.17,317.7 L317.09,317.2 L317.02,316.7 L316.94,316.2 L316.86,315.7 L316.78,315.2 L316.7,314.7 L316.62,314.2 L316.54,313.7 L316.46,313.2 L316.38,312.7 L316.3,312.2 L316.22,311.7 L316.13,311.2 L316.05,310.7 L315.97,310.2 L315.88,309.7 L315.79,309.2 L315.7,308.7 L315.61,308.2 L315.52,307.7 L315.43,307.2 L315.33,306.7 L315.24,306.2 L315.14,305.7 L315.05,305.2 L314.95,304.7 L314.85,304.2 L314.75,303.7 L314.65,303.2 L314.55,302.7 L314.45,302.2 L314.35,301.7 L314.25,301.2 L314.15,300.7 L314.05,300.2 L313.95,299.7 L313.84,299.2 L313.74,298.7 L313.64,298.2 L313.54,297.7 L313.44,297.2 L313.34,296.7 L313.23,296.2 L313.13,295.7 L313.03,295.2 L312.92,294.7 L312.82,294.2 L312.72,293.7 L312.61,293.2 L312.51,292.7 L312.4,292.2 L312.3,291.7 L312.19,291.2 L312.08,290.7 L311.97,290.2 L311.87,289.7 L311.76,289.2 L311.65,288.7 L311.53,288.2 L311.42,287.7 L311.31,287.2 L311.2,286.7 L311.08,286.2 L310.96,285.7 L310.85,285.2 L310.73,284.7 L310.61,284.2 L310.49,283.7 L310.37,283.2 L310.25,282.7 L310.12,282.2 L310,281.7 L309.88,281.2 L309.75,280.7 L309.62,280.2 L309.5,279.7 L309.37,279.2 L309.24,278.7 L309.11,278.2 L308.98,277.7 L308.84,277.2 L308.71,276.7 L308.57,276.2 L308.44,275.7 L308.3,275.2 L308.16,274.7 L308.03,274.2 L307.88,273.7 L307.74,273.2 L307.6,272.7 L307.46,272.2 L307.31,271.7 L307.17,271.2 L307.02,270.7 L306.87,270.2 L306.72,269.7 L306.57,269.2 L306.42,268.7 L306.27,268.2 L306.11,267.7 L305.96,267.2 L305.8,266.7 L305.64,266.2 L305.48,265.7 L305.32,265.2 L305.15,264.7 L304.99,264.2 L304.82,263.7 L304.66,263.2 L304.49,262.7 L304.32,262.2 L304.15,261.7 L303.97,261.2 L303.8,260.7 L303.62,260.2 L303.44,259.7 L303.26,259.2 L303.08,258.7 L302.89,258.2 L302.7,257.7 L302.51,257.2 L302.31,256.7 L302.11,256.2 L301.91,255.7 L301.7,255.2 L301.5,254.7 L301.29,254.2 L301.08,253.7 L300.88,253.2 L300.67,252.7 L300.46,252.2 L300.25,251.7 L300.05,251.2 L299.84,250.7 L299.64,250.2 L299.44,249.7 L299.24,249.2 L299.04,248.7 L298.84,248.2 L298.64,247.7 L298.45,247.2 L298.25,246.7 L298.05,246.2 L297.85,245.7 L297.65,245.2 L297.46,244.7 L297.26,244.2 L297.05,243.7 L296.85,243.2 L296.65,242.7 L296.44,242.2 L296.24,241.7 L296.03,241.2 L295.82,240.7 L295.6,240.2 L295.38,239.7 L295.16,239.2 L294.94,238.7 L294.72,238.2 L294.49,237.7 L294.26,237.2 L294.04,236.7 L293.81,236.2 L293.58,235.7 L293.35,235.2 L293.12,234.7 L292.9,234.2 L292.67,233.7 L292.45,233.2 L292.23,232.7 L292.01,232.2 L291.8,231.7 L291.59,231.2 L291.38,230.7 L291.17,230.2 L290.96,229.7 L290.76,229.2 L290.55,228.7 L290.35,228.2 L290.15,227.7 L289.95,227.2 L289.75,226.7 L289.54,226.2 L289.34,225.7 L289.14,225.2 L288.94,224.7 L288.74,224.2 L288.54,223.7 L288.34,223.2 L288.14,222.7 L287.94,222.2 L287.73,221.7 L287.53,221.2 L287.32,220.7 L287.12,220.2 L286.91,219.7 L286.71,219.2 L286.5,218.7 L286.3,218.2 L286.09,217.7 L285.89,217.2 L285.69,216.7 L285.49,216.2 L285.29,215.7 L285.09,215.2 L284.89,214.7 L284.7,214.2 L284.51,213.7 L284.33,213.2 L284.14,212.7 L283.95,212.2 L283.76,211.7 L283.56,211.2 L283.37,210.7 L283.18,210.2 L282.99,209.7 L282.81,209.2 L282.62,208.7 L282.44,208.2 L282.27,207.7 L282.09,207.2 L281.93,206.7 L281.77,206.2 L281.61,205.7 L281.47,205.2 L281.33,204.7 L281.2,204.2 L281.08,203.7 L280.95,203.2 L280.84,202.7 L280.72,202.2 L280.61,201.7 L280.5,201.2 L280.39,200.7 L280.28,200.2 L280.18,199.7 L280.08,199.2 L279.99,198.7 L279.9,198.2 L279.81,197.7 L279.73,197.2 L279.65,196.7 L279.57,196.2 L279.5,195.7 L279.43,195.2 L279.36,194.7 L279.29,194.2 L279.22,193.7 L279.16,193.2 L279.09,192.7 L279.02,192.2 L278.95,191.7 L278.89,191.2 L278.83,190.7 L278.77,190.2 L278.72,189.7 L278.67,189.2 L278.62,188.7 L278.59,188.2 L278.55,187.7 L278.53,187.2 L278.51,186.7 L278.5,186.2 L278.5,185.7 L278.5,185.2 L278.5,184.7 L278.51,184.2 L278.51,183.7 L278.52,183.2 L278.53,182.7 L278.54,182.2 L278.55,181.7 L278.56,181.2 L278.57,180.7 L278.59,180.2 L278.6,179.7 L278.61,179.2 L278.63,178.7 L278.65,178.2 L278.66,177.7 L278.68,177.2 L278.7,176.7 L278.72,176.2 L278.75,175.7 L278.79,175.2 L278.84,174.7 L278.89,174.2 L278.94,173.7 L279,173.2 L279.07,172.7 L279.14,172.2 L279.21,171.7 L279.29,171.2 L279.37,170.7 L279.45,170.2 L279.53,169.7 L279.62,169.2 L279.7,168.7 L279.78,168.2 L279.87,167.7 L279.95,167.2 L280.03,166.7 L280.12,166.2 L280.21,165.7 L280.3,165.2 L280.4,164.7 L280.49,164.2 L280.59,163.7 L280.7,163.2 L280.8,162.7 L280.91,162.2 L281.03,161.7 L281.15,161.2 L281.27,160.7 L281.39,160.2 L281.52,159.7 L281.65,159.2 L281.79,158.7 L281.93,158.2 L282.08,157.7 L282.25,157.2 L282.44,156.7 L282.64,156.2 L282.84,155.7 L283.06,155.2 L283.28,154.7 L283.51,154.2 L283.74,153.7 L283.97,153.2 L284.2,152.7 L284.43,152.2 L284.65,151.7 L284.86,151.2 L285.06,150.7 L285.26,150.2 L285.44,149.7 L285.6,149.2 L285.75,148.7 L285.9,148.2 L286.04,147.7 L286.17,147.2 L286.3,146.7 L286.42,146.2 L286.54,145.7 L286.66,145.2 L286.78,144.7 L286.9,144.2 L287.01,143.7 L287.13,143.2 L287.24,142.7 L287.36,142.2 L287.48,141.7 L287.6,141.2 L287.73,140.7 L287.86,140.2 L288,139.7 L288.14,139.2 L288.28,138.7 L288.43,138.2 L288.58,137.7 L288.73,137.2 L288.88,136.7 L289.03,136.2 L289.18,135.7 L289.34,135.2 L289.5,134.7 L289.66,134.2 L289.82,133.7 L289.98,133.2 L290.15,132.7 L290.32,132.2 L290.49,131.7 L290.66,131.2 L290.83,130.7 L291.01,130.2 L291.18,129.7 L291.36,129.2 L291.54,128.7 L291.72,128.2 L291.91,127.7 L292.1,127.2 L292.29,126.7 L292.48,126.2 L292.67,125.7 L292.87,125.2 L293.07,124.7 L293.27,124.2 L293.48,123.7 L293.68,123.2 L293.89,122.7 L294.11,122.2 L294.32,121.7 L294.54,121.2 L294.77,120.7 L295,120.2 L295.24,119.7 L295.49,119.2 L295.74,118.7 L296,118.2 L296.26,117.7 L296.52,117.2 L296.78,116.7 L297.05,116.2 L297.31,115.7 L297.58,115.2 L297.84,114.7 L298.1,114.2 L298.36,113.7 L298.61,113.2 L298.86,112.7 L299.1,112.2 L299.34,111.7 L299.58,111.2 L299.82,110.7 L300.06,110.2 L300.3,109.7 L300.53,109.2 L300.77,108.7 L301,108.2 L301.24,107.7 L301.47,107.2 L301.7,106.7 L301.92,106.2 L302.15,105.7 L302.37,105.2 L302.58,104.7 L302.8,104.2 L303.01,103.7 L303.22,103.2 L303.42,102.7 L303.62,102.2 L303.82,101.7 L304.02,101.2 L304.21,100.7 L304.4,100.2 L304.59,99.7 L304.78,99.2 L304.96,98.7 L305.14,98.2 L305.33,97.7 L305.51,97.2 L305.68,96.7 L305.86,96.2 L306.04,95.7 L306.21,95.2 L306.39,94.7 L306.56,94.2 L306.73,93.7 L306.91,93.2 L307.08,92.7 L307.25,92.2 L307.42,91.7 L307.58,91.2 L307.75,90.7 L307.91,90.2 L308.08,89.7 L308.24,89.2 L308.4,88.7 L308.56,88.2 L308.72,87.7 L308.88,87.2 L309.04,86.7 L309.2,86.2 L309.36,85.7 L309.51,85.2 L309.67,84.7 L309.82,84.2 L309.98,83.7 L310.14,83.2 L310.29,82.7 L310.45,82.2 L310.61,81.7 L310.76,81.2 L310.92,80.7 L311.07,80.2 L311.22,79.7 L311.37,79.2 L311.52,78.7 L311.67,78.2 L311.81,77.7 L311.95,77.2 L312.09,76.7 L312.22,76.2 L312.35,75.7 L312.47,75.2 L312.6,74.7 L312.72,74.2 L312.83,73.7 L312.95,73.2 L313.06,72.7 L313.17,72.2 L313.28,71.7 L313.38,71.2 L313.49,70.7 L313.59,70.2 L313.7,69.7 L313.8,69.2 L313.9,68.7 L314,68.2 L314.11,67.7 L314.21,67.2 L314.32,66.7 L314.42,66.2 L314.53,65.7 L314.64,65.2 L314.75,64.7 L314.86,64.2 L314.97,63.7 L315.08,63.2 L315.19,62.7 L315.3,62.2 L315.41,61.7 L315.52,61.2 L315.62,60.7 L315.73,60.2 L315.83,59.7 L315.93,59.2 L316.02,58.7 L316.11,58.2 L316.2,57.7 L316.28,57.2 L316.36,56.7 L316.44,56.2 L316.52,55.7 L316.59,55.2 L316.66,54.7 L316.73,54.2 L316.8,53.7 L316.86,53.2 L316.93,52.7 L316.99,52.2 L317.05,51.7 L317.12,51.2 L317.18,50.7 L317.24,50.2 L317.29,49.7 L317.35,49.2 L317.41,48.7 L317.47,48.2 L317.52,47.7 L317.58,47.2 L317.63,46.7 L317.67,46.2 L317.72,45.7 L317.77,45.2 L317.81,44.7 L317.85,44.2 L317.9,43.7 L317.94,43.2 L317.98,42.7 L318.03,42.2 L318.08,41.7 L318.12,41.2 L318.18,40.7 L318.23,40.2 L318.29,39.7 L318.35,39.2 L318.41,38.7 L318.48,38.2 L318.55,37.7 L318.62,37.2 L318.7,36.7 L318.79,36.2 L318.88,35.7 L318.98,35.2 L319.09,34.7 L319.21,34.2 L319.34,33.7 L319.49,33.2 L319.68,32.7 L319.95,32.2 L320.5,31.7 L321.6,31.2Z" fill="#bebebe" stroke="#000" stroke-width="1.6" stroke-linejoin="round"/>
<path d="M428.4,27.3 L429.49,27.8 L430.05,28.3 L430.34,28.8 L430.54,29.3 L430.69,29.8 L430.83,30.3 L430.96,30.8 L431.07,31.3 L431.17,31.8 L431.27,32.3 L431.35,32.8 L431.43,33.3 L431.5,33.8 L431.57,34.3 L431.63,34.8 L431.69,35.3 L431.74,35.8 L431.79,36.3 L431.84,36.8 L431.89,37.3 L431.93,37.8 L431.98,38.3 L432.02,38.8 L432.06,39.3 L432.1,39.8 L432.15,40.3 L432.19,40.8 L432.24,41.3 L432.28,41.8 L432.34,42.3 L432.39,42.8 L432.45,43.3 L432.5,43.8 L432.56,44.3 L432.62,44.8 L432.68,45.3 L432.74,45.8 L432.8,46.3 L432.87,46.8 L432.93,47.3 L433,47.8 L433.06,48.3 L433.13,48.8 L433.2,49.3 L433.27,49.8 L433.34,50.3 L433.41,50.8 L433.48,51.3 L433.56,51.8 L433.63,52.3 L433.71,52.8 L433.78,53.3 L433.86,53.8 L433.94,54.3 L434.02,54.8 L434.1,55.3 L434.18,55.8 L434.27,56.3 L434.35,56.8 L434.44,57.3 L434.53,57.8 L434.62,58.3 L434.71,58.8 L434.81,59.3 L434.9,59.8 L435,60.3 L435.1,60.8 L435.2,61.3 L435.3,61.8 L435.41,62.3 L435.52,62.8 L435.64,63.3 L435.75,63.8 L435.87,64.3 L436,64.8 L436.12,65.3 L436.25,65.8 L436.38,66.3 L436.51,66.8 L436.64,67.3 L436.77,67.8 L436.9,68.3 L437.04,68.8 L437.17,69.3 L437.31,69.8 L437.45,70.3 L437.58,70.8 L437.72,71.3 L437.86,71.8 L438,72.3 L438.15,72.8 L438.29,73.3 L438.44,73.8 L438.59,74.3 L438.74,74.8 L438.89,75.3 L439.04,75.8 L439.2,76.3 L439.35,76.8 L439.5,77.3 L439.65,77.8 L439.81,78.3 L439.96,78.8 L440.11,79.3 L440.26,79.8 L440.41,80.3 L440.56,80.8 L440.71,81.3 L440.87,81.8 L441.02,82.3 L441.17,82.8 L441.33,83.3 L441.48,83.8 L441.63,84.3 L441.79,84.8 L441.94,85.3 L442.09,85.8 L442.24,86.3 L442.4,86.8 L442.55,87.3 L442.7,87.8 L442.85,88.3 L443,88.8 L443.15,89.3 L443.29,89.8 L443.43,90.3 L443.57,90.8 L443.71,91.3 L443.85,91.8 L443.98,92.3 L444.12,92.8 L444.26,93.3 L444.39,93.8 L444.53,94.3 L444.68,94.8 L444.82,95.3 L444.98,95.8 L445.13,96.3 L445.29,96.8 L445.46,97.3 L445.63,97.8 L445.81,98.3 L446,98.8 L446.19,99.3 L446.4,99.8 L446.61,100.3 L446.83,100.8 L447.05,101.3 L447.28,101.8 L447.52,102.3 L447.75,102.8 L447.99,103.3 L448.24,103.8 L448.48,104.3 L448.73,104.8 L448.97,105.3 L449.22,105.8 L449.46,106.3 L449.71,106.8 L449.95,107.3 L450.19,107.8 L450.44,108.3 L450.69,108.8 L450.95,109.3 L451.2,109.8 L451.46,110.3 L451.72,110.8 L451.99,111.3 L452.25,111.8 L452.51,112.3 L452.77,112.8 L453.03,113.3 L453.28,113.8 L453.53,114.3 L453.78,114.8 L454.03,115.3 L454.27,115.8 L454.5,116.3 L454.73,116.8 L454.96,117.3 L455.18,117.8 L455.41,118.3 L455.63,118.8 L455.85,119.3 L456.07,119.8 L456.29,120.3 L456.51,120.8 L456.72,121.3 L456.93,121.8 L457.14,122.3 L457.34,122.8 L457.54,123.3 L457.74,123.8 L457.94,124.3 L458.13,124.8 L458.32,125.3 L458.51,125.8 L458.69,126.3 L458.87,126.8 L459.04,127.3 L459.21,127.8 L459.37,128.3 L459.54,128.8 L459.7,129.3 L459.86,129.8 L460.02,130.3 L460.17,130.8 L460.33,131.3 L460.5,131.8 L460.66,132.3 L460.82,132.8 L460.99,133.3 L461.17,133.8 L461.34,134.3 L461.53,134.8 L461.71,135.3 L461.91,135.8 L462.11,136.3 L462.31,136.8 L462.52,137.3 L462.73,137.8 L462.94,138.3 L463.16,138.8 L463.38,139.3 L463.6,139.8 L463.82,140.3 L464.04,140.8 L464.26,141.3 L464.48,141.8 L464.7,142.3 L464.91,142.8 L465.13,143.3 L465.33,143.8 L465.54,144.3 L465.75,144.8 L465.96,145.3 L466.17,145.8 L466.39,146.3 L466.6,146.8 L466.82,147.3 L467.03,147.8 L467.25,148.3 L467.46,148.8 L467.66,149.3 L467.87,149.8 L468.07,150.3 L468.26,150.8 L468.44,151.3 L468.62,151.8 L468.79,152.3 L468.95,152.8 L469.1,153.3 L469.24,153.8 L469.39,154.3 L469.53,154.8 L469.67,155.3 L469.81,155.8 L469.94,156.3 L470.08,156.8 L470.2,157.3 L470.33,157.8 L470.45,158.3 L470.56,158.8 L470.67,159.3 L470.77,159.8 L470.87,160.3 L470.96,160.8 L471.04,161.3 L471.11,161.8 L471.18,162.3 L471.23,162.8 L471.29,163.3 L471.35,163.8 L471.4,164.3 L471.46,164.8 L471.51,165.3 L471.56,165.8 L471.61,166.3 L471.66,166.8 L471.7,167.3 L471.74,167.8 L471.77,168.3 L471.81,168.8 L471.83,169.3 L471.86,169.8 L471.88,170.3 L471.89,170.8 L471.9,171.3 L471.9,171.8 L471.9,172.3 L471.9,172.8 L471.9,173.3 L471.9,173.8 L471.9,174.3 L471.9,174.8 L471.9,175.3 L471.9,175.8 L471.9,176.3 L471.9,176.8 L471.9,177.3 L471.9,177.8 L471.9,178.3 L471.9,178.8 L471.9,179.3 L471.9,179.8 L471.9,180.3 L471.9,180.8 L471.9,181.3 L471.89,181.8 L471.88,182.3 L471.86,182.8 L471.83,183.3 L471.8,183.8 L471.77,184.3 L471.73,184.8 L471.69,185.3 L471.65,185.8 L471.6,186.3 L471.55,186.8 L471.5,187.3 L471.45,187.8 L471.39,188.3 L471.34,188.8 L471.28,189.3 L471.22,189.8 L471.16,190.3 L471.09,190.8 L471.02,191.3 L470.93,191.8 L470.83,192.3 L470.73,192.8 L470.62,193.3 L470.51,193.8 L470.39,194.3 L470.26,194.8 L470.14,195.3 L470,195.8 L469.87,196.3 L469.74,196.8 L469.6,197.3 L469.47,197.8 L469.34,198.3 L469.2,198.8 L469.07,199.3 L468.94,199.8 L468.81,200.3 L468.68,200.8 L468.55,201.3 L468.41,201.8 L468.27,202.3 L468.13,202.8 L467.99,203.3 L467.84,203.8 L467.7,204.3 L467.55,204.8 L467.4,205.3 L467.24,205.8 L467.09,206.3 L466.93,206.8 L466.77,207.3 L466.6,207.8 L466.43,208.3 L466.26,208.8 L466.08,209.3 L465.9,209.8 L465.71,210.3 L465.52,210.8 L465.32,211.3 L465.12,211.8 L464.91,212.3 L464.71,212.8 L464.5,213.3 L464.29,213.8 L464.08,214.3 L463.87,214.8 L463.65,215.3 L463.44,215.8 L463.23,216.3 L463.03,216.8 L462.82,217.3 L462.62,217.8 L462.42,218.3 L462.21,218.8 L462.01,219.3 L461.81,219.8 L461.6,220.3 L461.4,220.8 L461.19,221.3 L460.99,221.8 L460.78,222.3 L460.58,222.8 L460.37,223.3 L460.17,223.8 L459.97,224.3 L459.76,224.8 L459.56,225.3 L459.36,225.8 L459.16,226.3 L458.96,226.8 L458.76,227.3 L458.56,227.8 L458.37,228.3 L458.17,228.8 L457.98,229.3 L457.78,229.8 L457.59,230.3 L457.39,230.8 L457.2,231.3 L457,231.8 L456.81,232.3 L456.62,232.8 L456.42,233.3 L456.23,233.8 L456.03,234.3 L455.83,234.8 L455.64,235.3 L455.44,235.8 L455.24,236.3 L455.04,236.8 L454.84,237.3 L454.65,237.8 L454.45,238.3 L454.25,238.8 L454.05,239.3 L453.85,239.8 L453.65,240.3 L453.45,240.8 L453.25,241.3 L453.05,241.8 L452.84,242.3 L452.64,242.8 L452.44,243.3 L452.23,243.8 L452.03,244.3 L451.82,244.8 L451.62,245.3 L451.41,245.8 L451.2,246.3 L450.99,246.8 L450.78,247.3 L450.56,247.8 L450.35,248.3 L450.14,248.8 L449.92,249.3 L449.71,249.8 L449.49,250.3 L449.28,250.8 L449.06,251.3 L448.85,251.8 L448.64,252.3 L448.43,252.8 L448.22,253.3 L448.01,253.8 L447.8,254.3 L447.59,254.8 L447.38,255.3 L447.17,255.8 L446.96,256.3 L446.76,256.8 L446.56,257.3 L446.37,257.8 L446.19,258.3 L446.02,258.8 L445.84,259.3 L445.67,259.8 L445.51,260.3 L445.34,260.8 L445.18,261.3 L445.02,261.8 L444.86,262.3 L444.71,262.8 L444.55,263.3 L444.4,263.8 L444.25,264.3 L444.1,264.8 L443.95,265.3 L443.81,265.8 L443.66,266.3 L443.51,266.8 L443.37,267.3 L443.22,267.8 L443.08,268.3 L442.93,268.8 L442.78,269.3 L442.64,269.8 L442.49,270.3 L442.34,270.8 L442.19,271.3 L442.04,271.8 L441.89,272.3 L441.74,272.8 L441.58,273.3 L441.43,273.8 L441.27,274.3 L441.11,274.8 L440.95,275.3 L440.78,275.8 L440.62,276.3 L440.46,276.8 L440.29,277.3 L440.13,277.8 L439.97,278.3 L439.8,278.8 L439.64,279.3 L439.48,279.8 L439.32,280.3 L439.16,280.8 L439.01,281.3 L438.85,281.8 L438.7,282.3 L438.55,282.8 L438.4,283.3 L438.25,283.8 L438.11,284.3 L437.97,284.8 L437.83,285.3 L437.7,285.8 L437.57,286.3 L437.45,286.8 L437.33,287.3 L437.21,287.8 L437.09,288.3 L436.98,288.8 L436.87,289.3 L436.76,289.8 L436.65,290.3 L436.55,290.8 L436.44,291.3 L436.34,291.8 L436.24,292.3 L436.14,292.8 L436.04,293.3 L435.94,293.8 L435.85,294.3 L435.75,294.8 L435.66,295.3 L435.57,295.8 L435.47,296.3 L435.38,296.8 L435.29,297.3 L435.2,297.8 L435.1,298.3 L435.01,298.8 L434.92,299.3 L434.83,299.8 L434.74,300.3 L434.65,300.8 L434.56,301.3 L434.46,301.8 L434.37,302.3 L434.28,302.8 L434.18,303.3 L434.09,303.8 L433.99,304.3 L433.89,304.8 L433.8,305.3 L433.7,305.8 L433.61,306.3 L433.51,306.8 L433.42,307.3 L433.32,307.8 L433.23,308.3 L433.14,308.8 L433.05,309.3 L432.96,309.8 L432.87,310.3 L432.78,310.8 L432.7,311.3 L432.61,311.8 L432.53,312.3 L432.45,312.8 L432.37,313.3 L432.3,313.8 L432.23,314.3 L432.16,314.8 L432.09,315.3 L432.02,315.8 L431.96,316.3 L431.9,316.8 L431.84,317.3 L431.79,317.8 L431.73,318.3 L431.68,318.8 L431.62,319.3 L431.57,319.8 L431.52,320.3 L431.47,320.8 L431.42,321.3 L431.38,321.8 L431.33,322.3 L431.28,322.8 L431.24,323.3 L431.19,323.8 L431.15,324.3 L431.1,324.8 L431.06,325.3 L431.02,325.8 L430.97,326.3 L430.93,326.8 L430.89,327.3 L430.84,327.8 L430.8,328.3 L430.76,328.8 L430.71,329.3 L430.67,329.8 L430.63,330.3 L430.58,330.8 L430.54,331.3 L430.49,331.8 L430.45,332.3 L430.4,332.8 L430.36,333.3 L430.31,333.8 L430.26,334.3 L430.22,334.8 L430.17,335.3 L430.13,335.8 L430.08,336.3 L430.04,336.8 L429.99,337.3 L429.95,337.8 L429.9,338.3 L429.86,338.8 L429.82,339.3 L429.78,339.8 L429.74,340.3 L429.7,340.8 L429.66,341.3 L429.62,341.8 L429.58,342.3 L429.54,342.8 L429.51,343.3 L429.48,343.8 L429.44,344.3 L429.41,344.8 L429.38,345.3 L429.35,345.8 L429.32,346.3 L429.29,346.8 L429.25,347.3 L429.23,347.8 L429.2,348.3 L429.18,348.8 L429.16,349.3 L429.15,349.8 L429.15,350.3 L429.14,350.8 L429.14,351.3 L429.14,351.8 L429.14,352.3 L429.13,352.8 L429.13,353.3 L429.13,353.8 L429.13,354.3 L429.13,354.8 L429.13,355.3 L429.13,355.8 L429.13,356.3 L429.13,356.8 L429.12,357.3 L429.12,357.8 L429.12,358.3 L429.12,358.8 L429.12,359.3 L429.11,359.8 L429.11,360.3 L429.1,360.8 L429.06,361.3 L428.85,361.8 L428.56,362.3 L428.4,362.6 L428.4,362.6 L428.24,362.3 L427.95,361.8 L427.74,361.3 L427.7,360.8 L427.69,360.3 L427.69,359.8 L427.68,359.3 L427.68,358.8 L427.68,358.3 L427.68,357.8 L427.68,357.3 L427.67,356.8 L427.67,356.3 L427.67,355.8 L427.67,355.3 L427.67,354.8 L427.67,354.3 L427.67,353.8 L427.67,353.3 L427.67,352.8 L427.66,352.3 L427.66,351.8 L427.66,351.3 L427.66,350.8 L427.65,350.3 L427.65,349.8 L427.64,349.3 L427.62,348.8 L427.6,348.3 L427.57,347.8 L427.55,347.3 L427.51,346.8 L427.48,346.3 L427.45,345.8 L427.42,345.3 L427.39,344.8 L427.36,344.3 L427.32,343.8 L427.29,343.3 L427.26,342.8 L427.22,342.3 L427.18,341.8 L427.14,341.3 L427.1,340.8 L427.06,340.3 L427.02,339.8 L426.98,339.3 L426.94,338.8 L426.9,338.3 L426.85,337.8 L426.81,337.3 L426.76,336.8 L426.72,336.3 L426.67,335.8 L426.63,335.3 L426.58,334.8 L426.54,334.3 L426.49,333.8 L426.44,333.3 L426.4,332.8 L426.35,332.3 L426.31,331.8 L426.26,331.3 L426.22,330.8 L426.17,330.3 L426.13,329.8 L426.09,329.3 L426.04,328.8 L426,328.3 L425.96,327.8 L425.91,327.3 L425.87,326.8 L425.83,326.3 L425.78,325.8 L425.74,325.3 L425.7,324.8 L425.65,324.3 L425.61,323.8 L425.56,323.3 L425.52,322.8 L425.47,322.3 L425.42,321.8 L425.38,321.3 L425.33,320.8 L425.28,320.3 L425.23,319.8 L425.18,319.3 L425.12,318.8 L425.07,318.3 L425.01,317.8 L424.96,317.3 L424.9,316.8 L424.84,316.3 L424.78,315.8 L424.71,315.3 L424.64,314.8 L424.57,314.3 L424.5,313.8 L424.43,313.3 L424.35,312.8 L424.27,312.3 L424.19,311.8 L424.1,311.3 L424.02,310.8 L423.93,310.3 L423.84,309.8 L423.75,309.3 L423.66,308.8 L423.57,308.3 L423.48,307.8 L423.38,307.3 L423.29,306.8 L423.19,306.3 L423.1,305.8 L423,305.3 L422.91,304.8 L422.81,304.3 L422.71,303.8 L422.62,303.3 L422.52,302.8 L422.43,302.3 L422.34,301.8 L422.24,301.3 L422.15,300.8 L422.06,300.3 L421.97,299.8 L421.88,299.3 L421.79,298.8 L421.7,298.3 L421.6,297.8 L421.51,297.3 L421.42,296.8 L421.33,296.3 L421.23,295.8 L421.14,295.3 L421.05,294.8 L420.95,294.3 L420.86,293.8 L420.76,293.3 L420.66,292.8 L420.56,292.3 L420.46,291.8 L420.36,291.3 L420.25,290.8 L420.15,290.3 L420.04,289.8 L419.93,289.3 L419.82,288.8 L419.71,288.3 L419.59,287.8 L419.47,287.3 L419.35,286.8 L419.23,286.3 L419.1,285.8 L418.97,285.3 L418.83,284.8 L418.69,284.3 L418.55,283.8 L418.4,283.3 L418.25,282.8 L418.1,282.3 L417.95,281.8 L417.79,281.3 L417.64,280.8 L417.48,280.3 L417.32,279.8 L417.16,279.3 L417,278.8 L416.83,278.3 L416.67,277.8 L416.51,277.3 L416.34,276.8 L416.18,276.3 L416.02,275.8 L415.85,275.3 L415.69,274.8 L415.53,274.3 L415.37,273.8 L415.22,273.3 L415.06,272.8 L414.91,272.3 L414.76,271.8 L414.61,271.3 L414.46,270.8 L414.31,270.3 L414.16,269.8 L414.02,269.3 L413.87,268.8 L413.72,268.3 L413.58,267.8 L413.43,267.3 L413.29,266.8 L413.14,266.3 L412.99,265.8 L412.85,265.3 L412.7,264.8 L412.55,264.3 L412.4,263.8 L412.25,263.3 L412.09,262.8 L411.94,262.3 L411.78,261.8 L411.62,261.3 L411.46,260.8 L411.29,260.3 L411.13,259.8 L410.96,259.3 L410.78,258.8 L410.61,258.3 L410.43,257.8 L410.24,257.3 L410.04,256.8 L409.84,256.3 L409.63,255.8 L409.42,255.3 L409.21,254.8 L409,254.3 L408.79,253.8 L408.58,253.3 L408.37,252.8 L408.16,252.3 L407.95,251.8 L407.74,251.3 L407.52,250.8 L407.31,250.3 L407.09,249.8 L406.88,249.3 L406.66,248.8 L406.45,248.3 L406.24,247.8 L406.02,247.3 L405.81,246.8 L405.6,246.3 L405.39,245.8 L405.18,245.3 L404.98,244.8 L404.77,244.3 L404.57,243.8 L404.36,243.3 L404.16,242.8 L403.96,242.3 L403.75,241.8 L403.55,241.3 L403.35,240.8 L403.15,240.3 L402.95,239.8 L402.75,239.3 L402.55,238.8 L402.35,238.3 L402.15,237.8 L401.96,237.3 L401.76,236.8 L401.56,236.3 L401.36,235.8 L401.16,235.3 L400.97,234.8 L400.77,234.3 L400.57,233.8 L400.38,233.3 L400.18,232.8 L399.99,232.3 L399.8,231.8 L399.6,231.3 L399.41,230.8 L399.21,230.3 L399.02,229.8 L398.82,229.3 L398.63,228.8 L398.43,228.3 L398.24,227.8 L398.04,227.3 L397.84,226.8 L397.64,226.3 L397.44,225.8 L397.24,225.3 L397.04,224.8 L396.83,224.3 L396.63,223.8 L396.43,223.3 L396.22,222.8 L396.02,222.3 L395.81,221.8 L395.61,221.3 L395.4,220.8 L395.2,220.3 L394.99,219.8 L394.79,219.3 L394.59,218.8 L394.38,218.3 L394.18,217.8 L393.98,217.3 L393.77,216.8 L393.57,216.3 L393.36,215.8 L393.15,215.3 L392.93,214.8 L392.72,214.3 L392.51,213.8 L392.3,213.3 L392.09,212.8 L391.89,212.3 L391.68,211.8 L391.48,211.3 L391.28,210.8 L391.09,210.3 L390.9,209.8 L390.72,209.3 L390.54,208.8 L390.37,208.3 L390.2,207.8 L390.03,207.3 L389.87,206.8 L389.71,206.3 L389.56,205.8 L389.4,205.3 L389.25,204.8 L389.1,204.3 L388.96,203.8 L388.81,203.3 L388.67,202.8 L388.53,202.3 L388.39,201.8 L388.25,201.3 L388.12,200.8 L387.99,200.3 L387.86,199.8 L387.73,199.3 L387.6,198.8 L387.46,198.3 L387.33,197.8 L387.2,197.3 L387.06,196.8 L386.93,196.3 L386.8,195.8 L386.66,195.3 L386.54,194.8 L386.41,194.3 L386.29,193.8 L386.18,193.3 L386.07,192.8 L385.97,192.3 L385.87,191.8 L385.78,191.3 L385.71,190.8 L385.64,190.3 L385.58,189.8 L385.52,189.3 L385.46,188.8 L385.41,188.3 L385.35,187.8 L385.3,187.3 L385.25,186.8 L385.2,186.3 L385.15,185.8 L385.11,185.3 L385.07,184.8 L385.03,184.3 L385,183.8 L384.97,183.3 L384.94,182.8 L384.92,182.3 L384.91,181.8 L384.9,181.3 L384.9,180.8 L384.9,180.3 L384.9,179.8 L384.9,179.3 L384.9,178.8 L384.9,178.3 L384.9,177.8 L384.9,177.3 L384.9,176.8 L384.9,176.3 L384.9,175.8 L384.9,175.3 L384.9,174.8 L384.9,174.3 L384.9,173.8 L384.9,173.3 L384.9,172.8 L384.9,172.3 L384.9,171.8 L384.9,171.3 L384.91,170.8 L384.92,170.3 L384.94,169.8 L384.97,169.3 L384.99,168.8 L385.03,168.3 L385.06,167.8 L385.1,167.3 L385.14,166.8 L385.19,166.3 L385.24,165.8 L385.29,165.3 L385.34,164.8 L385.4,164.3 L385.45,163.8 L385.51,163.3 L385.57,162.8 L385.62,162.3 L385.69,161.8 L385.76,161.3 L385.84,160.8 L385.93,160.3 L386.03,159.8 L386.13,159.3 L386.24,158.8 L386.35,158.3 L386.47,157.8 L386.6,157.3 L386.72,156.8 L386.86,156.3 L386.99,155.8 L387.13,155.3 L387.27,154.8 L387.41,154.3 L387.56,153.8 L387.7,153.3 L387.85,152.8 L388.01,152.3 L388.18,151.8 L388.36,151.3 L388.54,150.8 L388.73,150.3 L388.93,149.8 L389.14,149.3 L389.34,148.8 L389.55,148.3 L389.77,147.8 L389.98,147.3 L390.2,146.8 L390.41,146.3 L390.63,145.8 L390.84,145.3 L391.05,144.8 L391.26,144.3 L391.47,143.8 L391.67,143.3 L391.89,142.8 L392.1,142.3 L392.32,141.8 L392.54,141.3 L392.76,140.8 L392.98,140.3 L393.2,139.8 L393.42,139.3 L393.64,138.8 L393.86,138.3 L394.07,137.8 L394.28,137.3 L394.49,136.8 L394.69,136.3 L394.89,135.8 L395.09,135.3 L395.27,134.8 L395.46,134.3 L395.63,133.8 L395.81,133.3 L395.98,132.8 L396.14,132.3 L396.3,131.8 L396.47,131.3 L396.63,130.8 L396.78,130.3 L396.94,129.8 L397.1,129.3 L397.26,128.8 L397.43,128.3 L397.59,127.8 L397.76,127.3 L397.93,126.8 L398.11,126.3 L398.29,125.8 L398.48,125.3 L398.67,124.8 L398.86,124.3 L399.06,123.8 L399.26,123.3 L399.46,122.8 L399.66,122.3 L399.87,121.8 L400.08,121.3 L400.29,120.8 L400.51,120.3 L400.73,119.8 L400.95,119.3 L401.17,118.8 L401.39,118.3 L401.62,117.8 L401.84,117.3 L402.07,116.8 L402.3,116.3 L402.53,115.8 L402.77,115.3 L403.02,114.8 L403.27,114.3 L403.52,113.8 L403.77,113.3 L404.03,112.8 L404.29,112.3 L404.55,111.8 L404.81,111.3 L405.08,110.8 L405.34,110.3 L405.6,109.8 L405.85,109.3 L406.11,108.8 L406.36,108.3 L406.61,107.8 L406.85,107.3 L407.09,106.8 L407.34,106.3 L407.58,105.8 L407.83,105.3 L408.07,104.8 L408.32,104.3 L408.56,103.8 L408.81,103.3 L409.05,102.8 L409.28,102.3 L409.52,101.8 L409.75,101.3 L409.97,100.8 L410.19,100.3 L410.4,99.8 L410.61,99.3 L410.8,98.8 L410.99,98.3 L411.17,97.8 L411.34,97.3 L411.51,96.8 L411.67,96.3 L411.82,95.8 L411.98,95.3 L412.12,94.8 L412.27,94.3 L412.41,93.8 L412.54,93.3 L412.68,92.8 L412.82,92.3 L412.95,91.8 L413.09,91.3 L413.23,90.8 L413.37,90.3 L413.51,89.8 L413.65,89.3 L413.8,88.8 L413.95,88.3 L414.1,87.8 L414.25,87.3 L414.4,86.8 L414.56,86.3 L414.71,85.8 L414.86,85.3 L415.01,84.8 L415.17,84.3 L415.32,83.8 L415.47,83.3 L415.63,82.8 L415.78,82.3 L415.93,81.8 L416.09,81.3 L416.24,80.8 L416.39,80.3 L416.54,79.8 L416.69,79.3 L416.84,78.8 L416.99,78.3 L417.15,77.8 L417.3,77.3 L417.45,76.8 L417.6,76.3 L417.76,75.8 L417.91,75.3 L418.06,74.8 L418.21,74.3 L418.36,73.8 L418.51,73.3 L418.65,72.8 L418.8,72.3 L418.94,71.8 L419.08,71.3 L419.22,70.8 L419.35,70.3 L419.49,69.8 L419.63,69.3 L419.76,68.8 L419.9,68.3 L420.03,67.8 L420.16,67.3 L420.29,66.8 L420.42,66.3 L420.55,65.8 L420.68,65.3 L420.8,64.8 L420.93,64.3 L421.05,63.8 L421.16,63.3 L421.28,62.8 L421.39,62.3 L421.5,61.8 L421.6,61.3 L421.7,60.8 L421.8,60.3 L421.9,59.8 L421.99,59.3 L422.09,58.8 L422.18,58.3 L422.27,57.8 L422.36,57.3 L422.45,56.8 L422.53,56.3 L422.62,55.8 L422.7,55.3 L422.78,54.8 L422.86,54.3 L422.94,53.8 L423.02,53.3 L423.09,52.8 L423.17,52.3 L423.24,51.8 L423.32,51.3 L423.39,50.8 L423.46,50.3 L423.53,49.8 L423.6,49.3 L423.67,48.8 L423.74,48.3 L423.8,47.8 L423.87,47.3 L423.93,46.8 L424,46.3 L424.06,45.8 L424.12,45.3 L424.18,44.8 L424.24,44.3 L424.3,43.8 L424.35,43.3 L424.41,42.8 L424.46,42.3 L424.52,41.8 L424.56,41.3 L424.61,40.8 L424.65,40.3 L424.7,39.8 L424.74,39.3 L424.78,38.8 L424.82,38.3 L424.87,37.8 L424.91,37.3 L424.96,36.8 L425.01,36.3 L425.06,35.8 L425.11,35.3 L425.17,34.8 L425.23,34.3 L425.3,33.8 L425.37,33.3 L425.45,32.8 L425.53,32.3 L425.63,31.8 L425.73,31.3 L425.84,30.8 L425.97,30.3 L426.11,29.8 L426.26,29.3 L426.46,28.8 L426.75,28.3 L427.31,27.8 L428.4,27.3Z" fill="#bebebe" stroke="#000" stroke-width="1.6" stroke-linejoin="round"/>
<path d="M535.5,17.8 L536.61,18.3 L537.13,18.8 L537.38,19.3 L537.54,19.8 L537.69,20.3 L537.82,20.8 L537.94,21.3 L538.05,21.8 L538.15,22.3 L538.24,22.8 L538.32,23.3 L538.4,23.8 L538.47,24.3 L538.54,24.8 L538.61,25.3 L538.67,25.8 L538.73,26.3 L538.79,26.8 L538.84,27.3 L538.9,27.8 L538.95,28.3 L539,28.8 L539.05,29.3 L539.1,29.8 L539.14,30.3 L539.19,30.8 L539.24,31.3 L539.29,31.8 L539.34,32.3 L539.39,32.8 L539.44,33.3 L539.49,33.8 L539.54,34.3 L539.59,34.8 L539.63,35.3 L539.68,35.8 L539.73,36.3 L539.77,36.8 L539.82,37.3 L539.86,37.8 L539.91,38.3 L539.96,38.8 L540.01,39.3 L540.05,39.8 L540.1,40.3 L540.16,40.8 L540.21,41.3 L540.27,41.8 L540.32,42.3 L540.38,42.8 L540.44,43.3 L540.5,43.8 L540.56,44.3 L540.62,44.8 L540.69,45.3 L540.75,45.8 L540.82,46.3 L540.89,46.8 L540.96,47.3 L541.03,47.8 L541.11,48.3 L541.18,48.8 L541.26,49.3 L541.34,49.8 L541.43,50.3 L541.51,50.8 L541.6,51.3 L541.69,51.8 L541.79,52.3 L541.9,52.8 L542.01,53.3 L542.13,53.8 L542.25,54.3 L542.38,54.8 L542.51,55.3 L542.64,55.8 L542.78,56.3 L542.91,56.8 L543.05,57.3 L543.18,57.8 L543.32,58.3 L543.46,58.8 L543.59,59.3 L543.72,59.8 L543.85,60.3 L543.98,60.8 L544.1,61.3 L544.22,61.8 L544.35,62.3 L544.47,62.8 L544.59,63.3 L544.71,63.8 L544.84,64.3 L544.96,64.8 L545.08,65.3 L545.21,65.8 L545.33,66.3 L545.46,66.8 L545.59,67.3 L545.72,67.8 L545.85,68.3 L545.98,68.8 L546.12,69.3 L546.26,69.8 L546.4,70.3 L546.54,70.8 L546.69,71.3 L546.84,71.8 L546.99,72.3 L547.14,72.8 L547.29,73.3 L547.45,73.8 L547.61,74.3 L547.76,74.8 L547.92,75.3 L548.08,75.8 L548.23,76.3 L548.39,76.8 L548.54,77.3 L548.7,77.8 L548.85,78.3 L549,78.8 L549.15,79.3 L549.29,79.8 L549.43,80.3 L549.57,80.8 L549.71,81.3 L549.85,81.8 L549.98,82.3 L550.12,82.8 L550.26,83.3 L550.39,83.8 L550.53,84.3 L550.68,84.8 L550.82,85.3 L550.98,85.8 L551.13,86.3 L551.29,86.8 L551.46,87.3 L551.63,87.8 L551.81,88.3 L552,88.8 L552.2,89.3 L552.4,89.8 L552.61,90.3 L552.83,90.8 L553.06,91.3 L553.29,91.8 L553.52,92.3 L553.76,92.8 L554,93.3 L554.24,93.8 L554.49,94.3 L554.73,94.8 L554.98,95.3 L555.22,95.8 L555.47,96.3 L555.71,96.8 L555.95,97.3 L556.19,97.8 L556.43,98.3 L556.68,98.8 L556.92,99.3 L557.17,99.8 L557.42,100.3 L557.68,100.8 L557.93,101.3 L558.18,101.8 L558.43,102.3 L558.69,102.8 L558.94,103.3 L559.19,103.8 L559.44,104.3 L559.68,104.8 L559.92,105.3 L560.16,105.8 L560.4,106.3 L560.63,106.8 L560.87,107.3 L561.11,107.8 L561.34,108.3 L561.58,108.8 L561.81,109.3 L562.04,109.8 L562.27,110.3 L562.5,110.8 L562.73,111.3 L562.95,111.8 L563.17,112.3 L563.39,112.8 L563.61,113.3 L563.82,113.8 L564.02,114.3 L564.23,114.8 L564.42,115.3 L564.61,115.8 L564.8,116.3 L564.98,116.8 L565.16,117.3 L565.33,117.8 L565.5,118.3 L565.67,118.8 L565.83,119.3 L566,119.8 L566.16,120.3 L566.32,120.8 L566.48,121.3 L566.64,121.8 L566.8,122.3 L566.96,122.8 L567.13,123.3 L567.29,123.8 L567.46,124.3 L567.63,124.8 L567.81,125.3 L567.98,125.8 L568.16,126.3 L568.33,126.8 L568.5,127.3 L568.68,127.8 L568.85,128.3 L569.03,128.8 L569.21,129.3 L569.38,129.8 L569.56,130.3 L569.74,130.8 L569.92,131.3 L570.11,131.8 L570.29,132.3 L570.47,132.8 L570.66,133.3 L570.85,133.8 L571.04,134.3 L571.23,134.8 L571.43,135.3 L571.64,135.8 L571.85,136.3 L572.06,136.8 L572.27,137.3 L572.49,137.8 L572.7,138.3 L572.92,138.8 L573.13,139.3 L573.34,139.8 L573.55,140.3 L573.76,140.8 L573.96,141.3 L574.15,141.8 L574.34,142.3 L574.53,142.8 L574.7,143.3 L574.87,143.8 L575.04,144.3 L575.21,144.8 L575.38,145.3 L575.55,145.8 L575.72,146.3 L575.88,146.8 L576.05,147.3 L576.2,147.8 L576.36,148.3 L576.51,148.8 L576.65,149.3 L576.79,149.8 L576.92,150.3 L577.04,150.8 L577.16,151.3 L577.26,151.8 L577.36,152.3 L577.45,152.8 L577.54,153.3 L577.63,153.8 L577.71,154.3 L577.79,154.8 L577.87,155.3 L577.95,155.8 L578.02,156.3 L578.09,156.8 L578.16,157.3 L578.22,157.8 L578.28,158.3 L578.34,158.8 L578.4,159.3 L578.45,159.8 L578.49,160.3 L578.53,160.8 L578.57,161.3 L578.61,161.8 L578.64,162.3 L578.67,162.8 L578.7,163.3 L578.73,163.8 L578.77,164.3 L578.79,164.8 L578.82,165.3 L578.85,165.8 L578.88,166.3 L578.9,166.8 L578.92,167.3 L578.94,167.8 L578.96,168.3 L578.97,168.8 L578.98,169.3 L578.99,169.8 L579,170.3 L579,170.8 L579,171.3 L578.99,171.8 L578.98,172.3 L578.96,172.8 L578.93,173.3 L578.9,173.8 L578.87,174.3 L578.83,174.8 L578.79,175.3 L578.74,175.8 L578.7,176.3 L578.65,176.8 L578.6,177.3 L578.54,177.8 L578.49,178.3 L578.43,178.8 L578.38,179.3 L578.32,179.8 L578.27,180.3 L578.2,180.8 L578.13,181.3 L578.06,181.8 L577.98,182.3 L577.89,182.8 L577.8,183.3 L577.7,183.8 L577.6,184.3 L577.5,184.8 L577.39,185.3 L577.29,185.8 L577.17,186.3 L577.06,186.8 L576.95,187.3 L576.83,187.8 L576.71,188.3 L576.59,188.8 L576.48,189.3 L576.36,189.8 L576.23,190.3 L576.11,190.8 L575.97,191.3 L575.84,191.8 L575.7,192.3 L575.56,192.8 L575.42,193.3 L575.27,193.8 L575.12,194.3 L574.97,194.8 L574.81,195.3 L574.66,195.8 L574.5,196.3 L574.33,196.8 L574.17,197.3 L574,197.8 L573.83,198.3 L573.66,198.8 L573.48,199.3 L573.3,199.8 L573.11,200.3 L572.92,200.8 L572.72,201.3 L572.52,201.8 L572.31,202.3 L572.11,202.8 L571.9,203.3 L571.69,203.8 L571.48,204.3 L571.27,204.8 L571.05,205.3 L570.84,205.8 L570.63,206.3 L570.43,206.8 L570.22,207.3 L570.02,207.8 L569.82,208.3 L569.62,208.8 L569.42,209.3 L569.22,209.8 L569.02,210.3 L568.82,210.8 L568.62,211.3 L568.41,211.8 L568.21,212.3 L568.01,212.8 L567.81,213.3 L567.61,213.8 L567.4,214.3 L567.2,214.8 L566.99,215.3 L566.78,215.8 L566.57,216.3 L566.36,216.8 L566.14,217.3 L565.92,217.8 L565.7,218.3 L565.48,218.8 L565.26,219.3 L565.03,219.8 L564.8,220.3 L564.58,220.8 L564.35,221.3 L564.12,221.8 L563.89,222.3 L563.66,222.8 L563.44,223.3 L563.21,223.8 L562.99,224.3 L562.77,224.8 L562.56,225.3 L562.34,225.8 L562.13,226.3 L561.92,226.8 L561.72,227.3 L561.52,227.8 L561.31,228.3 L561.12,228.8 L560.92,229.3 L560.72,229.8 L560.52,230.3 L560.33,230.8 L560.13,231.3 L559.93,231.8 L559.74,232.3 L559.54,232.8 L559.34,233.3 L559.13,233.8 L558.93,234.3 L558.72,234.8 L558.52,235.3 L558.31,235.8 L558.09,236.3 L557.88,236.8 L557.66,237.3 L557.44,237.8 L557.22,238.3 L557,238.8 L556.78,239.3 L556.56,239.8 L556.34,240.3 L556.12,240.8 L555.9,241.3 L555.68,241.8 L555.46,242.3 L555.24,242.8 L555.03,243.3 L554.81,243.8 L554.6,244.3 L554.39,244.8 L554.18,245.3 L553.96,245.8 L553.75,246.3 L553.53,246.8 L553.32,247.3 L553.1,247.8 L552.89,248.3 L552.67,248.8 L552.46,249.3 L552.24,249.8 L552.03,250.3 L551.82,250.8 L551.61,251.3 L551.4,251.8 L551.19,252.3 L550.99,252.8 L550.78,253.3 L550.58,253.8 L550.38,254.3 L550.19,254.8 L549.99,255.3 L549.8,255.8 L549.61,256.3 L549.43,256.8 L549.25,257.3 L549.07,257.8 L548.9,258.3 L548.72,258.8 L548.56,259.3 L548.39,259.8 L548.22,260.3 L548.06,260.8 L547.9,261.3 L547.74,261.8 L547.58,262.3 L547.42,262.8 L547.27,263.3 L547.12,263.8 L546.96,264.3 L546.81,264.8 L546.66,265.3 L546.52,265.8 L546.37,266.3 L546.22,266.8 L546.08,267.3 L545.94,267.8 L545.79,268.3 L545.65,268.8 L545.51,269.3 L545.37,269.8 L545.23,270.3 L545.09,270.8 L544.96,271.3 L544.82,271.8 L544.68,272.3 L544.55,272.8 L544.41,273.3 L544.27,273.8 L544.13,274.3 L544,274.8 L543.86,275.3 L543.72,275.8 L543.58,276.3 L543.45,276.8 L543.31,277.3 L543.18,277.8 L543.04,278.3 L542.91,278.8 L542.78,279.3 L542.65,279.8 L542.52,280.3 L542.39,280.8 L542.26,281.3 L542.14,281.8 L542.02,282.3 L541.9,282.8 L541.78,283.3 L541.67,283.8 L541.56,284.3 L541.45,284.8 L541.34,285.3 L541.24,285.8 L541.14,286.3 L541.04,286.8 L540.94,287.3 L540.85,287.8 L540.76,288.3 L540.67,288.8 L540.58,289.3 L540.49,289.8 L540.41,290.3 L540.32,290.8 L540.24,291.3 L540.16,291.8 L540.07,292.3 L539.99,292.8 L539.92,293.3 L539.84,293.8 L539.76,294.3 L539.69,294.8 L539.61,295.3 L539.54,295.8 L539.47,296.3 L539.4,296.8 L539.33,297.3 L539.27,297.8 L539.2,298.3 L539.14,298.8 L539.07,299.3 L539.01,299.8 L538.95,300.3 L538.89,300.8 L538.83,301.3 L538.78,301.8 L538.72,302.3 L538.67,302.8 L538.61,303.3 L538.56,303.8 L538.5,304.3 L538.45,304.8 L538.4,305.3 L538.35,305.8 L538.3,306.3 L538.25,306.8 L538.2,307.3 L538.15,307.8 L538.11,308.3 L538.06,308.8 L538.01,309.3 L537.97,309.8 L537.93,310.3 L537.88,310.8 L537.84,311.3 L537.8,311.8 L537.76,312.3 L537.72,312.8 L537.69,313.3 L537.65,313.8 L537.61,314.3 L537.58,314.8 L537.54,315.3 L537.51,315.8 L537.48,316.3 L537.45,316.8 L537.42,317.3 L537.39,317.8 L537.36,318.3 L537.34,318.8 L537.31,319.3 L537.28,319.8 L537.26,320.3 L537.23,320.8 L537.21,321.3 L537.19,321.8 L537.16,322.3 L537.14,322.8 L537.12,323.3 L537.1,323.8 L537.07,324.3 L537.05,324.8 L537.03,325.3 L537.01,325.8 L536.99,326.3 L536.97,326.8 L536.94,327.3 L536.92,327.8 L536.9,328.3 L536.88,328.8 L536.86,329.3 L536.84,329.8 L536.81,330.3 L536.79,330.8 L536.77,331.3 L536.75,331.8 L536.72,332.3 L536.7,332.8 L536.68,333.3 L536.66,333.8 L536.64,334.3 L536.61,334.8 L536.59,335.3 L536.57,335.8 L536.55,336.3 L536.53,336.8 L536.51,337.3 L536.49,337.8 L536.47,338.3 L536.45,338.8 L536.43,339.3 L536.41,339.8 L536.39,340.3 L536.37,340.8 L536.34,341.3 L536.32,341.8 L536.3,342.3 L536.28,342.8 L536.25,343.3 L536.23,343.8 L536.21,344.3 L536.19,344.8 L536.18,345.3 L536.17,345.8 L536.16,346.3 L536.15,346.8 L536.15,347.3 L536.15,347.8 L536.15,348.3 L536.14,348.8 L536.14,349.3 L536.14,349.8 L536.14,350.3 L536.14,350.8 L536.14,351.3 L536.14,351.8 L536.14,352.3 L536.13,352.8 L536.13,353.3 L536.13,353.8 L536.13,354.3 L536.13,354.8 L536.13,355.3 L536.13,355.8 L536.13,356.3 L536.13,356.8 L536.13,357.3 L536.13,357.8 L536.13,358.3 L536.13,358.8 L536.13,359.3 L536.13,359.8 L536.13,360.3 L536.13,360.8 L536.13,361.3 L536.13,361.8 L536.13,362.3 L536.13,362.8 L536.13,363.3 L536.13,363.8 L536.13,364.3 L536.13,364.8 L536.13,365.3 L536.13,365.8 L536.13,366.3 L536.13,366.8 L536.13,367.3 L536.13,367.8 L536.12,368.3 L536.12,368.8 L536.12,369.3 L536.12,369.8 L536.12,370.3 L536.12,370.8 L536.12,371.3 L536.12,371.8 L536.12,372.3 L536.12,372.8 L536.12,373.3 L536.12,373.8 L536.11,374.3 L536.11,374.8 L536.11,375.3 L536.11,375.8 L536.11,376.3 L536.11,376.8 L536.1,377.3 L536.1,377.8 L536.04,378.3 L535.79,378.8 L535.5,379.3 L535.5,379.3 L535.21,378.8 L534.96,378.3 L534.9,377.8 L534.9,377.3 L534.89,376.8 L534.89,376.3 L534.89,375.8 L534.89,375.3 L534.89,374.8 L534.89,374.3 L534.88,373.8 L534.88,373.3 L534.88,372.8 L534.88,372.3 L534.88,371.8 L534.88,371.3 L534.88,370.8 L534.88,370.3 L534.88,369.8 L534.88,369.3 L534.88,368.8 L534.88,368.3 L534.87,367.8 L534.87,367.3 L534.87,366.8 L534.87,366.3 L534.87,365.8 L534.87,365.3 L534.87,364.8 L534.87,364.3 L534.87,363.8 L534.87,363.3 L534.87,362.8 L534.87,362.3 L534.87,361.8 L534.87,361.3 L534.87,360.8 L534.87,360.3 L534.87,359.8 L534.87,359.3 L534.87,358.8 L534.87,358.3 L534.87,357.8 L534.87,357.3 L534.87,356.8 L534.87,356.3 L534.87,355.8 L534.87,355.3 L534.87,354.8 L534.87,354.3 L534.87,353.8 L534.87,353.3 L534.87,352.8 L534.86,352.3 L534.86,351.8 L534.86,351.3 L534.86,350.8 L534.86,350.3 L534.86,349.8 L534.86,349.3 L534.86,348.8 L534.85,348.3 L534.85,347.8 L534.85,347.3 L534.85,346.8 L534.84,346.3 L534.83,345.8 L534.82,345.3 L534.81,344.8 L534.79,344.3 L534.77,343.8 L534.75,343.3 L534.72,342.8 L534.7,342.3 L534.68,341.8 L534.66,341.3 L534.63,340.8 L534.61,340.3 L534.59,339.8 L534.57,339.3 L534.55,338.8 L534.53,338.3 L534.51,337.8 L534.49,337.3 L534.47,336.8 L534.45,336.3 L534.43,335.8 L534.41,335.3 L534.39,334.8 L534.36,334.3 L534.34,333.8 L534.32,333.3 L534.3,332.8 L534.28,332.3 L534.25,331.8 L534.23,331.3 L534.21,330.8 L534.19,330.3 L534.16,329.8 L534.14,329.3 L534.12,328.8 L534.1,328.3 L534.08,327.8 L534.06,327.3 L534.03,326.8 L534.01,326.3 L533.99,325.8 L533.97,325.3 L533.95,324.8 L533.93,324.3 L533.9,323.8 L533.88,323.3 L533.86,322.8 L533.84,322.3 L533.81,321.8 L533.79,321.3 L533.77,320.8 L533.74,320.3 L533.72,319.8 L533.69,319.3 L533.66,318.8 L533.64,318.3 L533.61,317.8 L533.58,317.3 L533.55,316.8 L533.52,316.3 L533.49,315.8 L533.46,315.3 L533.42,314.8 L533.39,314.3 L533.35,313.8 L533.31,313.3 L533.28,312.8 L533.24,312.3 L533.2,311.8 L533.16,311.3 L533.12,310.8 L533.07,310.3 L533.03,309.8 L532.99,309.3 L532.94,308.8 L532.89,308.3 L532.85,307.8 L532.8,307.3 L532.75,306.8 L532.7,306.3 L532.65,305.8 L532.6,305.3 L532.55,304.8 L532.5,304.3 L532.44,303.8 L532.39,303.3 L532.33,302.8 L532.28,302.3 L532.22,301.8 L532.17,301.3 L532.11,300.8 L532.05,300.3 L531.99,299.8 L531.93,299.3 L531.86,298.8 L531.8,298.3 L531.73,297.8 L531.67,297.3 L531.6,296.8 L531.53,296.3 L531.46,295.8 L531.39,295.3 L531.31,294.8 L531.24,294.3 L531.16,293.8 L531.08,293.3 L531.01,292.8 L530.93,292.3 L530.84,291.8 L530.76,291.3 L530.68,290.8 L530.59,290.3 L530.51,289.8 L530.42,289.3 L530.33,288.8 L530.24,288.3 L530.15,287.8 L530.06,287.3 L529.96,286.8 L529.86,286.3 L529.76,285.8 L529.66,285.3 L529.55,284.8 L529.44,284.3 L529.33,283.8 L529.22,283.3 L529.1,282.8 L528.98,282.3 L528.86,281.8 L528.74,281.3 L528.61,280.8 L528.48,280.3 L528.35,279.8 L528.22,279.3 L528.09,278.8 L527.96,278.3 L527.82,277.8 L527.69,277.3 L527.55,276.8 L527.42,276.3 L527.28,275.8 L527.14,275.3 L527,274.8 L526.87,274.3 L526.73,273.8 L526.59,273.3 L526.45,272.8 L526.32,272.3 L526.18,271.8 L526.04,271.3 L525.91,270.8 L525.77,270.3 L525.63,269.8 L525.49,269.3 L525.35,268.8 L525.21,268.3 L525.06,267.8 L524.92,267.3 L524.78,266.8 L524.63,266.3 L524.48,265.8 L524.34,265.3 L524.19,264.8 L524.04,264.3 L523.88,263.8 L523.73,263.3 L523.58,262.8 L523.42,262.3 L523.26,261.8 L523.1,261.3 L522.94,260.8 L522.78,260.3 L522.61,259.8 L522.44,259.3 L522.28,258.8 L522.1,258.3 L521.93,257.8 L521.75,257.3 L521.57,256.8 L521.39,256.3 L521.2,255.8 L521.01,255.3 L520.81,254.8 L520.62,254.3 L520.42,253.8 L520.22,253.3 L520.01,252.8 L519.81,252.3 L519.6,251.8 L519.39,251.3 L519.18,250.8 L518.97,250.3 L518.76,249.8 L518.54,249.3 L518.33,248.8 L518.11,248.3 L517.9,247.8 L517.68,247.3 L517.47,246.8 L517.25,246.3 L517.04,245.8 L516.82,245.3 L516.61,244.8 L516.4,244.3 L516.19,243.8 L515.97,243.3 L515.76,242.8 L515.54,242.3 L515.32,241.8 L515.1,241.3 L514.88,240.8 L514.66,240.3 L514.44,239.8 L514.22,239.3 L514,238.8 L513.78,238.3 L513.56,237.8 L513.34,237.3 L513.12,236.8 L512.91,236.3 L512.69,235.8 L512.48,235.3 L512.28,234.8 L512.07,234.3 L511.87,233.8 L511.66,233.3 L511.46,232.8 L511.26,232.3 L511.07,231.8 L510.87,231.3 L510.67,230.8 L510.48,230.3 L510.28,229.8 L510.08,229.3 L509.88,228.8 L509.69,228.3 L509.48,227.8 L509.28,227.3 L509.08,226.8 L508.87,226.3 L508.66,225.8 L508.44,225.3 L508.23,224.8 L508.01,224.3 L507.79,223.8 L507.56,223.3 L507.34,222.8 L507.11,222.3 L506.88,221.8 L506.65,221.3 L506.42,220.8 L506.2,220.3 L505.97,219.8 L505.74,219.3 L505.52,218.8 L505.3,218.3 L505.08,217.8 L504.86,217.3 L504.64,216.8 L504.43,216.3 L504.22,215.8 L504.01,215.3 L503.8,214.8 L503.6,214.3 L503.39,213.8 L503.19,213.3 L502.99,212.8 L502.79,212.3 L502.59,211.8 L502.38,211.3 L502.18,210.8 L501.98,210.3 L501.78,209.8 L501.58,209.3 L501.38,208.8 L501.18,208.3 L500.98,207.8 L500.78,207.3 L500.57,206.8 L500.37,206.3 L500.16,205.8 L499.95,205.3 L499.73,204.8 L499.52,204.3 L499.31,203.8 L499.1,203.3 L498.89,202.8 L498.69,202.3 L498.48,201.8 L498.28,201.3 L498.08,200.8 L497.89,200.3 L497.7,199.8 L497.52,199.3 L497.34,198.8 L497.17,198.3 L497,197.8 L496.83,197.3 L496.67,196.8 L496.5,196.3 L496.34,195.8 L496.19,195.3 L496.03,194.8 L495.88,194.3 L495.73,193.8 L495.58,193.3 L495.44,192.8 L495.3,192.3 L495.16,191.8 L495.03,191.3 L494.89,190.8 L494.77,190.3 L494.64,189.8 L494.52,189.3 L494.41,188.8 L494.29,188.3 L494.17,187.8 L494.05,187.3 L493.94,186.8 L493.83,186.3 L493.71,185.8 L493.61,185.3 L493.5,184.8 L493.4,184.3 L493.3,183.8 L493.2,183.3 L493.11,182.8 L493.02,182.3 L492.94,181.8 L492.87,181.3 L492.8,180.8 L492.73,180.3 L492.68,179.8 L492.62,179.3 L492.57,178.8 L492.51,178.3 L492.46,177.8 L492.4,177.3 L492.35,176.8 L492.3,176.3 L492.26,175.8 L492.21,175.3 L492.17,174.8 L492.13,174.3 L492.1,173.8 L492.07,173.3 L492.04,172.8 L492.02,172.3 L492.01,171.8 L492,171.3 L492,170.8 L492,170.3 L492.01,169.8 L492.02,169.3 L492.03,168.8 L492.04,168.3 L492.06,167.8 L492.08,167.3 L492.1,166.8 L492.12,166.3 L492.15,165.8 L492.18,165.3 L492.21,164.8 L492.23,164.3 L492.27,163.8 L492.3,163.3 L492.33,162.8 L492.36,162.3 L492.39,161.8 L492.43,161.3 L492.47,160.8 L492.51,160.3 L492.55,159.8 L492.6,159.3 L492.66,158.8 L492.72,158.3 L492.78,157.8 L492.84,157.3 L492.91,156.8 L492.98,156.3 L493.05,155.8 L493.13,155.3 L493.21,154.8 L493.29,154.3 L493.37,153.8 L493.46,153.3 L493.55,152.8 L493.64,152.3 L493.74,151.8 L493.84,151.3 L493.96,150.8 L494.08,150.3 L494.21,149.8 L494.35,149.3 L494.49,148.8 L494.64,148.3 L494.8,147.8 L494.95,147.3 L495.12,146.8 L495.28,146.3 L495.45,145.8 L495.62,145.3 L495.79,144.8 L495.96,144.3 L496.13,143.8 L496.3,143.3 L496.47,142.8 L496.66,142.3 L496.85,141.8 L497.04,141.3 L497.24,140.8 L497.45,140.3 L497.66,139.8 L497.87,139.3 L498.08,138.8 L498.3,138.3 L498.51,137.8 L498.73,137.3 L498.94,136.8 L499.15,136.3 L499.36,135.8 L499.57,135.3 L499.77,134.8 L499.96,134.3 L500.15,133.8 L500.34,133.3 L500.53,132.8 L500.71,132.3 L500.89,131.8 L501.08,131.3 L501.26,130.8 L501.44,130.3 L501.62,129.8 L501.79,129.3 L501.97,128.8 L502.15,128.3 L502.32,127.8 L502.5,127.3 L502.67,126.8 L502.84,126.3 L503.02,125.8 L503.19,125.3 L503.37,124.8 L503.54,124.3 L503.71,123.8 L503.87,123.3 L504.04,122.8 L504.2,122.3 L504.36,121.8 L504.52,121.3 L504.68,120.8 L504.84,120.3 L505,119.8 L505.17,119.3 L505.33,118.8 L505.5,118.3 L505.67,117.8 L505.84,117.3 L506.02,116.8 L506.2,116.3 L506.39,115.8 L506.58,115.3 L506.77,114.8 L506.98,114.3 L507.18,113.8 L507.39,113.3 L507.61,112.8 L507.83,112.3 L508.05,111.8 L508.27,111.3 L508.5,110.8 L508.73,110.3 L508.96,109.8 L509.19,109.3 L509.42,108.8 L509.66,108.3 L509.89,107.8 L510.13,107.3 L510.37,106.8 L510.6,106.3 L510.84,105.8 L511.08,105.3 L511.32,104.8 L511.56,104.3 L511.81,103.8 L512.06,103.3 L512.31,102.8 L512.57,102.3 L512.82,101.8 L513.07,101.3 L513.32,100.8 L513.58,100.3 L513.83,99.8 L514.08,99.3 L514.32,98.8 L514.57,98.3 L514.81,97.8 L515.05,97.3 L515.29,96.8 L515.53,96.3 L515.78,95.8 L516.02,95.3 L516.27,94.8 L516.51,94.3 L516.76,93.8 L517,93.3 L517.24,92.8 L517.48,92.3 L517.71,91.8 L517.94,91.3 L518.17,90.8 L518.39,90.3 L518.6,89.8 L518.8,89.3 L519,88.8 L519.19,88.3 L519.37,87.8 L519.54,87.3 L519.71,86.8 L519.87,86.3 L520.02,85.8 L520.18,85.3 L520.32,84.8 L520.47,84.3 L520.61,83.8 L520.74,83.3 L520.88,82.8 L521.02,82.3 L521.15,81.8 L521.29,81.3 L521.43,80.8 L521.57,80.3 L521.71,79.8 L521.85,79.3 L522,78.8 L522.15,78.3 L522.3,77.8 L522.46,77.3 L522.61,76.8 L522.77,76.3 L522.92,75.8 L523.08,75.3 L523.24,74.8 L523.39,74.3 L523.55,73.8 L523.71,73.3 L523.86,72.8 L524.01,72.3 L524.16,71.8 L524.31,71.3 L524.46,70.8 L524.6,70.3 L524.74,69.8 L524.88,69.3 L525.02,68.8 L525.15,68.3 L525.28,67.8 L525.41,67.3 L525.54,66.8 L525.67,66.3 L525.79,65.8 L525.92,65.3 L526.04,64.8 L526.16,64.3 L526.29,63.8 L526.41,63.3 L526.53,62.8 L526.65,62.3 L526.78,61.8 L526.9,61.3 L527.02,60.8 L527.15,60.3 L527.28,59.8 L527.41,59.3 L527.54,58.8 L527.68,58.3 L527.82,57.8 L527.95,57.3 L528.09,56.8 L528.22,56.3 L528.36,55.8 L528.49,55.3 L528.62,54.8 L528.75,54.3 L528.87,53.8 L528.99,53.3 L529.1,52.8 L529.21,52.3 L529.31,51.8 L529.4,51.3 L529.49,50.8 L529.57,50.3 L529.66,49.8 L529.74,49.3 L529.82,48.8 L529.89,48.3 L529.97,47.8 L530.04,47.3 L530.11,46.8 L530.18,46.3 L530.25,45.8 L530.31,45.3 L530.38,44.8 L530.44,44.3 L530.5,43.8 L530.56,43.3 L530.62,42.8 L530.68,42.3 L530.73,41.8 L530.79,41.3 L530.84,40.8 L530.9,40.3 L530.95,39.8 L530.99,39.3 L531.04,38.8 L531.09,38.3 L531.14,37.8 L531.18,37.3 L531.23,36.8 L531.27,36.3 L531.32,35.8 L531.37,35.3 L531.41,34.8 L531.46,34.3 L531.51,33.8 L531.56,33.3 L531.61,32.8 L531.66,32.3 L531.71,31.8 L531.76,31.3 L531.81,30.8 L531.86,30.3 L531.9,29.8 L531.95,29.3 L532,28.8 L532.05,28.3 L532.1,27.8 L532.16,27.3 L532.21,26.8 L532.27,26.3 L532.33,25.8 L532.39,25.3 L532.46,24.8 L532.53,24.3 L532.6,23.8 L532.68,23.3 L532.76,22.8 L532.85,22.3 L532.95,21.8 L533.06,21.3 L533.18,20.8 L533.31,20.3 L533.46,19.8 L533.62,19.3 L533.87,18.8 L534.39,18.3 L535.5,17.8Z" fill="#bebebe" stroke="#000" stroke-width="1.6" stroke-linejoin="round"/>
<line x1="214.5" y1="139.6" x2="214.5" y2="168.7" stroke="#000" stroke-width="1.35" stroke-dasharray="6.4 7.0" stroke-linecap="round"/>
<line x1="214.5" y1="255.1" x2="214.5" y2="226.1" stroke="#000" stroke-width="1.35" stroke-dasharray="6.4 7.0" stroke-linecap="round"/>
<line x1="203.5" y1="139.6" x2="225.5" y2="139.6" stroke="#000" stroke-width="1.35"/>
<line x1="203.5" y1="255.1" x2="225.5" y2="255.1" stroke="#000" stroke-width="1.35"/>
<rect x="193" y="168.7" width="43" height="57.4" fill="#fff" stroke="#000" stroke-width="1.55"/>
<line x1="193" y1="196.7" x2="236" y2="196.7" stroke="#000" stroke-width="4.6"/>
<line x1="321.6" y1="127.5" x2="321.6" y2="156.1" stroke="#000" stroke-width="1.35" stroke-dasharray="6.4 7.0" stroke-linecap="round"/>
<line x1="321.6" y1="241.3" x2="321.6" y2="212.8" stroke="#000" stroke-width="1.35" stroke-dasharray="6.4 7.0" stroke-linecap="round"/>
<line x1="310.6" y1="127.5" x2="332.6" y2="127.5" stroke="#000" stroke-width="1.35"/>
<line x1="310.6" y1="241.3" x2="332.6" y2="241.3" stroke="#000" stroke-width="1.35"/>
<rect x="300.1" y="156.1" width="43" height="56.7" fill="#fff" stroke="#000" stroke-width="1.55"/>
<line x1="300.1" y1="183.2" x2="343.1" y2="183.2" stroke="#000" stroke-width="4.6"/>
<line x1="428.4" y1="121.3" x2="428.4" y2="150.9" stroke="#000" stroke-width="1.35" stroke-dasharray="6.4 7.0" stroke-linecap="round"/>
<line x1="428.4" y1="238.1" x2="428.4" y2="208.8" stroke="#000" stroke-width="1.35" stroke-dasharray="6.4 7.0" stroke-linecap="round"/>
<line x1="417.4" y1="121.3" x2="439.4" y2="121.3" stroke="#000" stroke-width="1.35"/>
<line x1="417.4" y1="238.1" x2="439.4" y2="238.1" stroke="#000" stroke-width="1.35"/>
<rect x="406.9" y="150.9" width="43" height="57.9" fill="#fff" stroke="#000" stroke-width="1.55"/>
<line x1="406.9" y1="178.8" x2="449.9" y2="178.8" stroke="#000" stroke-width="4.6"/>
<line x1="535.5" y1="113" x2="535.5" y2="142" stroke="#000" stroke-width="1.35" stroke-dasharray="6.4 7.0" stroke-linecap="round"/>
<line x1="535.5" y1="227.7" x2="535.5" y2="199.3" stroke="#000" stroke-width="1.35" stroke-dasharray="6.4 7.0" stroke-linecap="round"/>
<line x1="524.5" y1="113" x2="546.5" y2="113" stroke="#000" stroke-width="1.35"/>
<line x1="524.5" y1="227.7" x2="546.5" y2="227.7" stroke="#000" stroke-width="1.35"/>
<rect x="514" y="142" width="43" height="57.3" fill="#fff" stroke="#000" stroke-width="1.55"/>
<line x1="514" y1="169.9" x2="557" y2="169.9" stroke="#000" stroke-width="4.6"/>
<rect x="143.6" y="1" width="462.4" height="477.4" fill="none" stroke="#1a1a1a" stroke-width="1.6"/>
<line x1="127.1" y1="58.9" x2="143.6" y2="58.9" stroke="#1a1a1a" stroke-width="1.6"/>
<text x="116.4" y="68.5" text-anchor="end" class="t29">4</text>
<line x1="127.1" y1="178.7" x2="143.6" y2="178.7" stroke="#1a1a1a" stroke-width="1.6"/>
<text x="116.4" y="188.3" text-anchor="end" class="t29">2</text>
<line x1="127.1" y1="298.5" x2="143.6" y2="298.5" stroke="#1a1a1a" stroke-width="1.6"/>
<text x="116.4" y="308.1" text-anchor="end" class="t29">0</text>
<line x1="127.1" y1="418.3" x2="143.6" y2="418.3" stroke="#1a1a1a" stroke-width="1.6"/>
<text x="116.4" y="427.9" text-anchor="end" class="t29">−2</text>
<line x1="214.5" y1="478.4" x2="214.5" y2="495.6" stroke="#1a1a1a" stroke-width="1.6"/>
<text transform="translate(224.1,506.3) rotate(-90)" text-anchor="end" class="t29">C-lim</text>
<line x1="321.6" y1="478.4" x2="321.6" y2="495.6" stroke="#1a1a1a" stroke-width="1.6"/>
<text transform="translate(331.2,506.3) rotate(-90)" text-anchor="end" class="t29">C/N=30</text>
<line x1="428.4" y1="478.4" x2="428.4" y2="495.6" stroke="#1a1a1a" stroke-width="1.6"/>
<text transform="translate(438,506.3) rotate(-90)" text-anchor="end" class="t29">C/N=50</text>
<line x1="535.5" y1="478.4" x2="535.5" y2="495.6" stroke="#1a1a1a" stroke-width="1.6"/>
<text transform="translate(545.1,506.3) rotate(-90)" text-anchor="end" class="t29">C/N=115</text>
<text x="321.1" y="422.6" text-anchor="middle" class="t21">p=3e-9</text>
<text x="427.9" y="422.6" text-anchor="middle" class="t21">p=2e-15</text>
<text x="535" y="422.6" text-anchor="middle" class="t21">p=8e-29</text>
<text transform="translate(21.9,241.2) rotate(-90)" text-anchor="middle" class="t29">log10 translation efficiency</text>
<text transform="translate(56.7,241.2) rotate(-90)" text-anchor="middle" class="t29">(protein/mRNA h)</text>
</g>
<g id="pb">
<line x1="141.4" y1="1001.1" x2="604" y2="1001.1" stroke="#000" stroke-width="1.5" stroke-dasharray="6.4 7.0" stroke-linecap="round"/>
<line x1="227.64" y1="1094.04" x2="304.76" y2="1069.46" stroke="#808080" stroke-width="1.45"/>
<line x1="335.98" y1="1063.86" x2="410.42" y2="1060.44" stroke="#808080" stroke-width="1.45"/>
<line x1="441.62" y1="1054.77" x2="518.38" y2="1029.93" stroke="#808080" stroke-width="1.45"/>
<line x1="226.62" y1="1091.57" x2="305.78" y2="1050.73" stroke="#3300ff" stroke-width="1.45"/>
<line x1="335.86" y1="1041.25" x2="410.54" y2="1031.15" stroke="#3300ff" stroke-width="1.45"/>
<line x1="440.48" y1="1021.4" x2="519.52" y2="978.7" stroke="#3300ff" stroke-width="1.45"/>
<line x1="225.82" y1="1090.18" x2="306.58" y2="1037.72" stroke="#111111" stroke-width="1.45"/>
<line x1="335.57" y1="1025.3" x2="410.83" y2="1007.4" stroke="#111111" stroke-width="1.45"/>
<line x1="440.82" y1="996.77" x2="519.18" y2="959.13" stroke="#111111" stroke-width="1.45"/>
<line x1="225.18" y1="1089.27" x2="307.22" y2="1027.43" stroke="#9966ff" stroke-width="1.45"/>
<line x1="335.09" y1="1012.47" x2="411.31" y2="985.53" stroke="#9966ff" stroke-width="1.45"/>
<line x1="440.87" y1="973.38" x2="519.13" y2="936.52" stroke="#9966ff" stroke-width="1.45"/>
<line x1="222.69" y1="1086.64" x2="309.71" y2="982.96" stroke="#ff80ff" stroke-width="1.45"/>
<line x1="333.96" y1="962.88" x2="412.44" y2="918.92" stroke="#ff80ff" stroke-width="1.45"/>
<line x1="440.56" y1="903.65" x2="519.44" y2="862.15" stroke="#ff80ff" stroke-width="1.45"/>
<circle cx="320" cy="970.7" r="7.2" fill="none" stroke="#ff80ff" stroke-width="1.6"/>
<circle cx="426.4" cy="911.1" r="7.2" fill="none" stroke="#ff80ff" stroke-width="1.6"/>
<circle cx="533.6" cy="854.7" r="7.2" fill="none" stroke="#ff80ff" stroke-width="1.6"/>
<circle cx="320" cy="1017.8" r="7.2" fill="none" stroke="#9966ff" stroke-width="1.6"/>
<circle cx="426.4" cy="980.2" r="7.2" fill="none" stroke="#9966ff" stroke-width="1.6"/>
<circle cx="533.6" cy="929.7" r="7.2" fill="none" stroke="#9966ff" stroke-width="1.6"/>
<circle cx="320" cy="1043.4" r="7.2" fill="none" stroke="#3300ff" stroke-width="1.6"/>
<circle cx="426.4" cy="1029" r="7.2" fill="none" stroke="#3300ff" stroke-width="1.6"/>
<circle cx="533.6" cy="971.1" r="7.2" fill="none" stroke="#3300ff" stroke-width="1.6"/>
<circle cx="212.4" cy="1098.9" r="7.2" fill="none" stroke="#808080" stroke-width="1.6"/>
<circle cx="320" cy="1064.6" r="7.2" fill="none" stroke="#808080" stroke-width="1.6"/>
<circle cx="426.4" cy="1059.7" r="7.2" fill="none" stroke="#808080" stroke-width="1.6"/>
<circle cx="533.6" cy="1025" r="7.2" fill="none" stroke="#808080" stroke-width="1.6"/>
<path d="M204.8,1091.3 L220,1106.5 M204.8,1106.5 L220,1091.3" stroke="#111111" stroke-width="1.6" fill="none"/>
<path d="M312.4,1021.4 L327.6,1036.6 M312.4,1036.6 L327.6,1021.4" stroke="#111111" stroke-width="1.6" fill="none"/>
<path d="M418.8,996.1 L434,1011.3 M418.8,1011.3 L434,996.1" stroke="#111111" stroke-width="1.6" fill="none"/>
<path d="M526,944.6 L541.2,959.8 M526,959.8 L541.2,944.6" stroke="#111111" stroke-width="1.6" fill="none"/>
<rect x="141.4" y="688.7" width="462.6" height="477.4" fill="none" stroke="#1a1a1a" stroke-width="1.6"/>
<line x1="125.3" y1="1098.8" x2="141.4" y2="1098.8" stroke="#1a1a1a" stroke-width="1.6"/>
<text x="114.2" y="1108.4" text-anchor="end" class="t29">0</text>
<line x1="125.3" y1="1000.6" x2="141.4" y2="1000.6" stroke="#1a1a1a" stroke-width="1.6"/>
<text x="114.2" y="1010.2" text-anchor="end" class="t29">1</text>
<line x1="125.3" y1="902.4" x2="141.4" y2="902.4" stroke="#1a1a1a" stroke-width="1.6"/>
<text x="114.2" y="912" text-anchor="end" class="t29">2</text>
<line x1="125.3" y1="804.2" x2="141.4" y2="804.2" stroke="#1a1a1a" stroke-width="1.6"/>
<text x="114.2" y="813.8" text-anchor="end" class="t29">3</text>
<line x1="125.3" y1="706" x2="141.4" y2="706" stroke="#1a1a1a" stroke-width="1.6"/>
<text x="114.2" y="715.6" text-anchor="end" class="t29">4</text>
<line x1="212.4" y1="1166.1" x2="212.4" y2="1182.4" stroke="#1a1a1a" stroke-width="1.6"/>
<text transform="translate(222,1192.8) rotate(-90)" text-anchor="end" class="t29">C-lim</text>
<line x1="320" y1="1166.1" x2="320" y2="1182.4" stroke="#1a1a1a" stroke-width="1.6"/>
<text transform="translate(329.6,1192.8) rotate(-90)" text-anchor="end" class="t29">C/N=30</text>
<line x1="426.4" y1="1166.1" x2="426.4" y2="1182.4" stroke="#1a1a1a" stroke-width="1.6"/>
<text transform="translate(436,1192.8) rotate(-90)" text-anchor="end" class="t29">C/N=50</text>
<line x1="533.6" y1="1166.1" x2="533.6" y2="1182.4" stroke="#1a1a1a" stroke-width="1.6"/>
<text transform="translate(543.2,1192.8) rotate(-90)" text-anchor="end" class="t29">C/N=115</text>
<path d="M161.9,728 L177.1,743.2 M161.9,743.2 L177.1,728" stroke="#111111" stroke-width="1.6" fill="none"/>
<text x="189.9" y="743.3" class="t25">All genes (3,361)</text>
<circle cx="169.5" cy="764.68" r="7.2" fill="none" stroke="#ff80ff" stroke-width="1.6"/>
<text x="189.9" y="772.38" class="t25">group 1 (786)</text>
<circle cx="169.5" cy="793.76" r="7.2" fill="none" stroke="#9966ff" stroke-width="1.6"/>
<text x="189.9" y="801.46" class="t25">group 2 (668)</text>
<circle cx="169.5" cy="822.84" r="7.2" fill="none" stroke="#3300ff" stroke-width="1.6"/>
<text x="189.9" y="830.54" class="t25">group 3 (1,036)</text>
<circle cx="169.5" cy="851.92" r="7.2" fill="none" stroke="#808080" stroke-width="1.6"/>
<text x="189.9" y="859.62" class="t25">group 4 (871)</text>
<text transform="translate(35.8,927.4) rotate(-90)" text-anchor="middle" class="t29">log2 fold change in</text>
<text transform="translate(70.9,927.4) rotate(-90)" text-anchor="middle" class="t29">median translation efficiency</text>
</g>
<g id="pc">
<rect x="661" y="184.8" width="205.7" height="1120.96" fill="#f8f8ff"/>
<rect x="661" y="184.8" width="52" height="141.12" fill="#36648b"/>
<rect x="712" y="184.8" width="2" height="35.03" fill="#36648b"/>
<rect x="661" y="324.92" width="52" height="70.06" fill="#4b8dc5"/>
<rect x="713" y="184.8" width="51" height="35.03" fill="#36648b"/>
<rect x="713" y="394.98" width="51" height="70.06" fill="#36648b"/>
<rect x="764" y="500.07" width="51.1" height="35.03" fill="#36648b"/>
<rect x="814.1" y="500.07" width="2" height="35.03" fill="#36648b"/>
<rect x="764" y="570.13" width="51.1" height="106.09" fill="#36648b"/>
<rect x="814.1" y="570.13" width="2" height="35.03" fill="#36648b"/>
<rect x="764" y="675.22" width="51.1" height="71.06" fill="#4b8dc5"/>
<rect x="764" y="745.28" width="51.1" height="106.09" fill="#36648b"/>
<rect x="764" y="850.37" width="51.1" height="36.03" fill="#4b8dc5"/>
<rect x="764" y="885.4" width="51.1" height="141.12" fill="#36648b"/>
<rect x="764" y="1025.52" width="51.1" height="36.03" fill="#4b8dc5"/>
<rect x="764" y="1060.55" width="51.1" height="105.09" fill="#36648b"/>
<rect x="764" y="1200.67" width="51.1" height="71.06" fill="#36648b"/>
<rect x="764" y="1270.73" width="51.1" height="35.03" fill="#4b8dc5"/>
<rect x="815.1" y="430.01" width="51.6" height="71.06" fill="#36648b"/>
<rect x="815.1" y="500.07" width="51.6" height="105.09" fill="#4b8dc5"/>
<rect x="815.1" y="1165.64" width="51.6" height="35.03" fill="#36648b"/>
<rect x="874" y="184.8" width="30" height="211.2" fill="#ff0000"/>
<rect x="874" y="395" width="30" height="386.3" fill="#ff9933"/>
<rect x="874" y="780.3" width="30" height="246.2" fill="#9933ff"/>
<rect x="874" y="1025.5" width="30" height="108.2" fill="#00cc00"/>
<rect x="874" y="1132.7" width="30" height="34" fill="#0000ff"/>
<rect x="874" y="1165.7" width="30" height="140.1" fill="#ffff00"/>
<text x="916" y="213.4" class="t29">nucleobase-containing small molecule metabolic process</text>
<text x="916" y="248.4" class="t29">cellular amino acid metabolic process</text>
<text x="916" y="283.4" class="t29">cofactor metabolic process</text>
<text x="916" y="318.4" class="t29">generation of precursor metabolites and energy</text>
<text x="916" y="353.4" class="t29">lipid metabolic process</text>
<text x="916" y="388.4" class="t29">monocarboxylic acid metabolic process</text>
<text x="916" y="423.4" class="t29">protein folding</text>
<text x="916" y="458.4" class="t29">protein complex biogenesis</text>
<text x="916" y="493.4" class="t29">Golgi vesicle transport</text>
<text x="916" y="528.4" class="t29">ribosomal large subunit biogenesis</text>
<text x="916" y="563.4" class="t29">protein targeting</text>
<text x="916" y="598.4" class="t29">ribosomal small subunit biogenesis</text>
<text x="916" y="633.4" class="t29">cytoplasmic translation</text>
<text x="916" y="668.4" class="t29">peptidyl-amino acid modification</text>
<text x="916" y="703.4" class="t29">regulation of translation</text>
<text x="916" y="738.4" class="t29">ribosomal subunit export from nucleus</text>
<text x="916" y="773.4" class="t29">rRNA processing</text>
<text x="916" y="808.4" class="t29">DNA-templated transcription, elongation</text>
<text x="916" y="843.4" class="t29">DNA-templated transcription, initiation</text>
<text x="916" y="878.4" class="t29">mRNA processing</text>
<text x="916" y="913.4" class="t29">nuclear transport</text>
<text x="916" y="948.4" class="t29">nucleobase-containing compound transport</text>
<text x="916" y="983.4" class="t29">RNA catabolic process</text>
<text x="916" y="1018.4" class="t29">transcription from RNA polymerase II promoter</text>
<text x="916" y="1053.4" class="t29">exocytosis</text>
<text x="916" y="1088.4" class="t29">mitochondrial translation</text>
<text x="916" y="1123.4" class="t29">mitochondrion organization</text>
<text x="916" y="1158.4" class="t29">cellular response to DNA damage stimulus</text>
<text x="916" y="1193.4" class="t29">DNA replication</text>
<text x="916" y="1228.4" class="t29">chromatin organization</text>
<text x="916" y="1263.4" class="t29">DNA repair</text>
<text x="916" y="1298.4" class="t29">histone modification</text>
<text transform="translate(691.8,171.4) rotate(-90)" class="t29">group 1</text>
<text transform="translate(743.9,171.4) rotate(-90)" class="t29">group 2</text>
<text transform="translate(796.5,171.4) rotate(-90)" class="t29">group 3</text>
<text transform="translate(849.9,171.4) rotate(-90)" class="t29">group 4</text>
<text x="1063" y="72" class="t29" font-style="italic">p</text>
<text x="1077" y="80" class="t21f">Fisher</text>
<rect x="1149.2" y="45.7" width="86.3" height="50.8" fill="#36648b"/>
<text x="1191.75" y="82.2" text-anchor="middle" class="t29" style="fill:#fff;stroke:#fff">&lt;0.01</text>
<rect x="1235.5" y="45.7" width="88.4" height="50.8" fill="#4b8dc5"/>
<text x="1279.1" y="82.2" text-anchor="middle" class="t29" style="fill:#fff;stroke:#fff">&lt;0.02</text>
<rect x="1323.9" y="45.7" width="87.9" height="50.8" fill="#f8f8ff"/>
<text x="1367.25" y="82.2" text-anchor="middle" class="t29" style="fill:#000;stroke:#000">&lt;0.05</text>
<rect x="1149.2" y="45.7" width="262.6" height="50.8" fill="none" stroke="#111" stroke-width="1.9"/>
<line x1="1235.5" y1="45.7" x2="1235.5" y2="96.5" stroke="#111" stroke-width="1.9"/>
<line x1="1323.9" y1="45.7" x2="1323.9" y2="96.5" stroke="#111" stroke-width="1.9"/>
</g>
</svg>
</body></html>
